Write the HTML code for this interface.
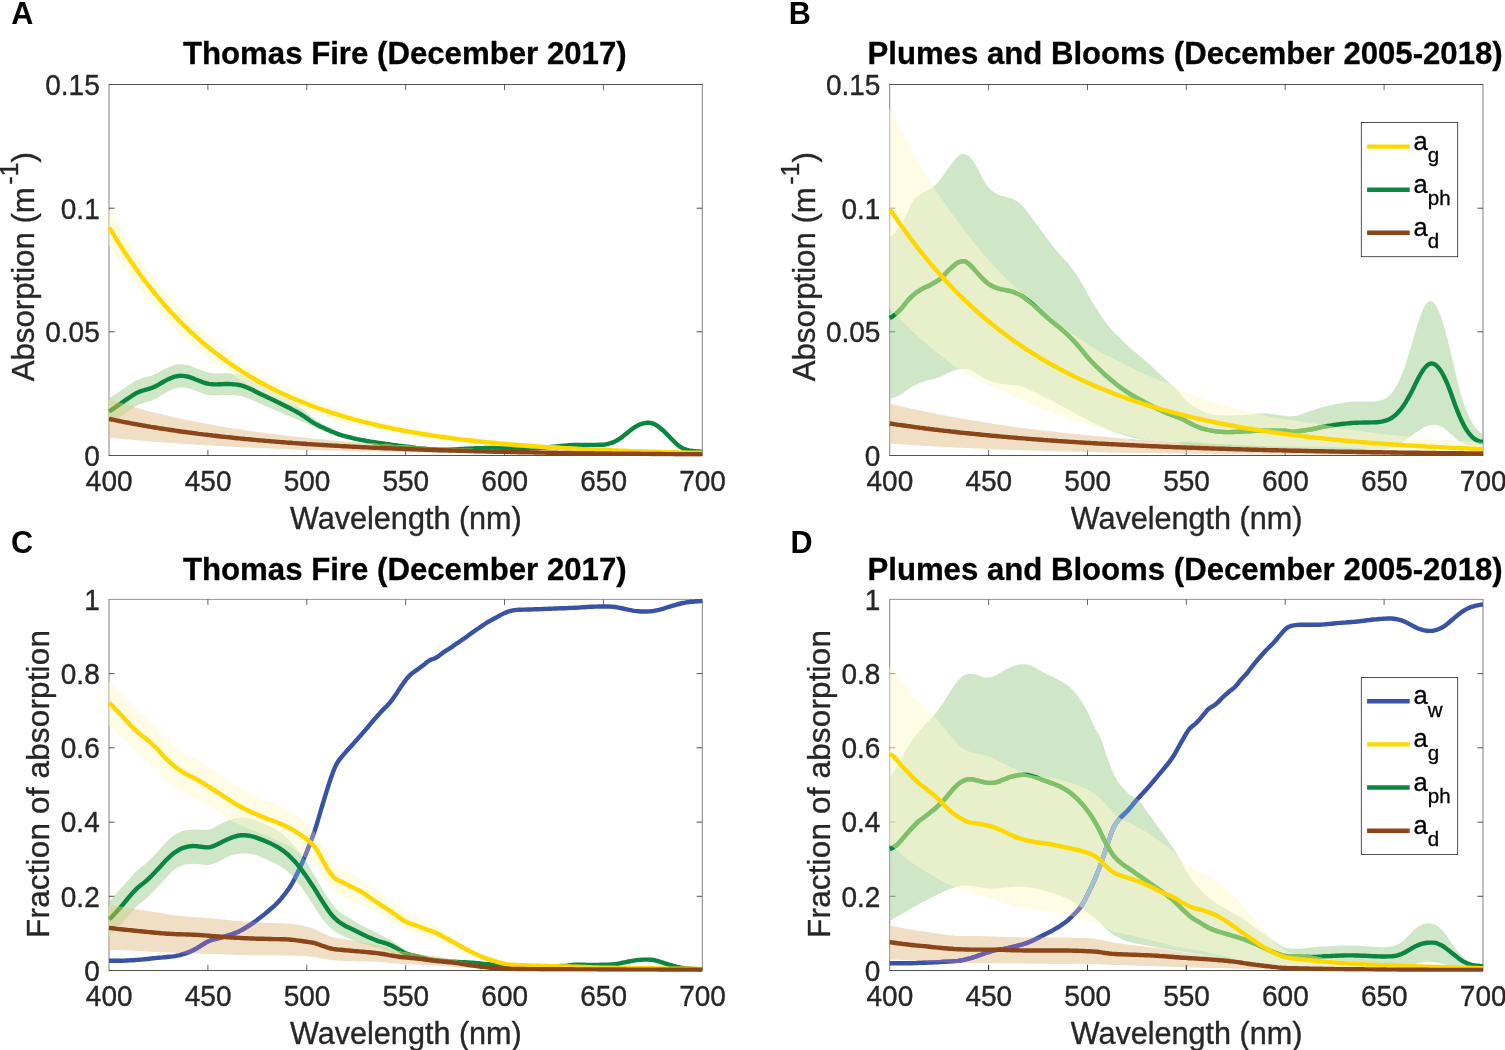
<!DOCTYPE html>
<html lang="en"><head><meta charset="utf-8"><title>Absorption spectra</title>
<style>html,body{margin:0;padding:0;background:#fff}body{width:1505px;height:1050px;overflow:hidden}svg{display:block}text{font-family:"Liberation Sans",Arial,Helvetica,sans-serif}.n{stroke:#262626;stroke-width:0.35px;paint-order:stroke}.b{stroke:#000;stroke-width:0.3px}</style>
</head><body>
<svg width="1505" height="1050" viewBox="0 0 1505 1050">
<rect width="1505" height="1050" fill="#fff"/>
<defs>
<clipPath id="clipA"><rect x="106" y="81.5" width="596.7" height="375.3"/></clipPath>
<clipPath id="clipB"><rect x="886.7" y="81.5" width="596.7" height="375.3"/></clipPath>
<clipPath id="clipC"><rect x="106" y="596.4" width="596.7" height="375.4"/></clipPath>
<clipPath id="clipD"><rect x="886.7" y="596.4" width="596.7" height="375.4"/></clipPath>
<path id="A_aph" d="M109 411.4L111 410.3L113 408.9L115 407.5L117 406.1L119 404.7L121 403.3L123 401.9L125 400.5L127 399.1L129 397.8L131 396.5L133 395.2L135 393.9L137 392.8L139 391.9L141 391.1L143 390.5L145 389.9L147 389.4L149 388.8L151 388.2L153 387.4L155 386.6L157 385.5L159 384.4L161 383.2L163 382L165 380.9L167 379.9L169 378.9L171 378L173 377.2L175 376.6L177 376.2L179 375.9L181 375.8L183 375.9L185 376.1L187 376.5L189 376.9L191 377.6L193 378.3L195 379.2L197 380L199 380.8L201 381.5L203 382.3L205 383L207 383.5L209 383.9L211 384.1L213 384.3L215 384.4L217 384.4L219 384.3L221 384.2L223 384.1L225 384L227 384L229 384L231 384.1L233 384.3L235 384.4L237 384.6L239 385L241 385.4L243 386L245 386.7L247 387.5L249 388.3L251 389.2L253 390.1L255 391.2L257 392.2L258.9 393.2L260.9 394.2L262.9 395.1L264.9 396.1L266.9 397L268.9 397.9L270.9 398.9L272.9 399.8L274.9 400.8L276.9 401.8L278.9 402.8L280.9 403.8L282.9 404.8L284.9 405.8L286.9 406.8L288.9 407.8L290.9 408.8L292.9 409.9L294.9 410.9L296.9 412L298.9 413.1L300.9 414.3L302.9 415.6L304.9 417L306.9 418.4L308.9 419.8L310.9 421.2L312.9 422.4L314.9 423.6L316.9 424.6L318.9 425.7L320.9 426.7L322.9 427.6L324.9 428.5L326.9 429.4L328.9 430.3L330.9 431.2L332.9 432L334.9 432.8L336.9 433.6L338.9 434.3L340.9 435L342.9 435.6L344.9 436.1L346.9 436.7L348.9 437.2L350.9 437.7L352.9 438.2L354.9 438.6L356.9 439.1L358.9 439.5L360.9 439.9L362.9 440.2L364.9 440.6L366.9 441L368.9 441.3L370.9 441.7L372.9 442L374.9 442.3L376.9 442.6L378.9 442.9L380.9 443.2L382.9 443.5L384.9 443.8L386.9 444.1L388.9 444.3L390.9 444.6L392.9 444.9L394.9 445.1L396.9 445.4L398.9 445.7L400.9 445.9L402.9 446.2L404.9 446.4L406.9 446.7L408.9 447L410.9 447.3L412.9 447.5L414.9 447.8L416.9 448.1L418.9 448.3L420.9 448.5L422.9 448.7L424.9 448.8L426.9 449L428.9 449.1L430.9 449.2L432.9 449.3L434.9 449.4L436.9 449.5L438.9 449.6L440.9 449.6L442.9 449.7L444.9 449.7L446.9 449.7L448.9 449.7L450.9 449.6L452.9 449.5L454.9 449.4L456.9 449.3L458.9 449.1L460.9 449L462.9 448.9L464.9 448.8L466.9 448.7L468.9 448.6L470.9 448.5L472.9 448.4L474.9 448.3L476.9 448.3L478.9 448.2L480.9 448.1L482.9 448.1L484.9 448L486.9 448L488.9 448L490.9 448L492.9 448L494.9 448L496.9 448.1L498.9 448.1L500.9 448.1L502.9 448.1L504.9 448.2L506.9 448.2L508.9 448.2L510.9 448.3L512.9 448.3L514.9 448.4L516.9 448.5L518.9 448.6L520.9 448.6L522.9 448.7L524.9 448.6L526.9 448.6L528.9 448.5L530.9 448.4L532.9 448.2L534.9 448.1L536.9 448L538.9 447.9L540.9 447.7L542.9 447.6L544.9 447.5L546.9 447.3L548.9 447.2L550.9 447L552.9 446.8L554.8 446.6L556.8 446.4L558.8 446.2L560.8 446L562.8 445.8L564.8 445.6L566.8 445.5L568.8 445.3L570.8 445.2L572.8 445L574.8 445L576.8 444.9L578.8 444.9L580.8 444.9L582.8 444.9L584.8 444.9L586.8 444.9L588.8 444.9L590.8 444.9L592.8 444.9L594.8 444.9L596.8 444.9L598.8 444.8L600.8 444.8L602.8 444.7L604.8 444.5L606.8 444.1L608.8 443.6L610.8 443.1L612.8 442.4L614.8 441.5L616.8 440.5L618.8 439.3L620.8 437.9L622.8 436.4L624.8 434.8L626.8 433.2L628.8 431.6L630.8 430L632.8 428.5L634.8 427.1L636.8 426L638.8 425L640.8 424.1L642.8 423.5L644.8 423.1L646.8 422.8L648.8 422.8L650.8 423L652.8 423.5L654.8 424.3L656.8 425.5L658.8 426.9L660.8 428.5L662.8 430.2L664.8 432.1L666.8 434.1L668.8 436.1L670.8 438.2L672.8 440.3L674.8 442.3L676.8 444.1L678.8 445.7L680.8 447.2L682.8 448.4L684.8 449.2L686.8 449.9L688.8 450.4L690.8 450.8L692.8 451L694.8 451.2L696.8 451.4L698.8 451.5L700.8 451.6L702.3 451.6"/>
<path id="A_aph_s" d="M108.4 398.4L109 398.4L112 396.6L115 394.5L118 392.5L121 390.4L124 388.3L127 386.3L130 384.3L133 382.4L136 380.6L139 379.2L142 378.2L145 377.3L148 376.5L151 375.7L154 374.6L157 373.2L160 371.5L163 369.8L166 368.3L169 366.9L172 365.7L175 364.8L178 364.3L181 364.1L184 364.4L187 364.9L190 365.8L193 366.9L196 368.2L199 369.4L202 370.6L205 371.7L208 372.5L211 373L214 373.3L217 373.3L220 373.2L223 373.2L226 373.1L229 373.2L232 373.4L235 373.7L238 374.1L241 374.9L244 375.9L247 377L250 378.4L253 379.9L256 381.5L258.9 383.2L261.9 384.7L264.9 386.3L267.9 387.8L270.9 389.4L273.9 391L276.9 392.7L279.9 394.4L282.9 396.2L285.9 397.9L288.9 399.7L291.9 401.6L294.9 403.5L297.9 405.5L300.9 407.7L303.9 410.1L306.9 412.7L309.9 415.4L312.9 417.8L315.9 420.1L318.9 422.1L321.9 423.8L324.9 425.5L327.9 427.1L330.9 428.6L333.9 430L336.9 431.3L339.9 432.4L342.9 433.4L345.9 434.3L348.9 435.1L351.9 435.9L354.9 436.6L357.9 437.3L360.9 437.9L363.9 438.5L366.9 439L369.9 439.6L372.9 440.1L375.9 440.6L378.9 441L381.9 441.5L384.9 441.9L387.9 442.4L390.9 442.8L393.9 443.2L396.9 443.7L399.9 444.1L402.9 444.5L405.9 445L408.9 445.4L411.9 445.9L414.9 446.4L417.9 446.9L420.9 447.3L423.9 447.6L426.9 447.9L429.9 448.2L432.9 448.4L435.9 448.6L438.9 448.8L441.9 448.9L444.9 449L447.9 449.1L450.9 449.1L453.9 449L456.9 448.8L459.9 448.7L462.9 448.6L465.9 448.4L468.9 448.3L471.9 448.2L474.9 448.1L477.9 448.1L480.9 448L483.9 447.9L486.9 447.9L489.9 448L492.9 448L495.9 448L498.9 448.1L501.9 448.1L504.9 448.2L507.9 448.2L510.9 448.3L513.9 448.4L516.9 448.5L519.9 448.6L522.9 448.7L525.9 448.6L528.9 448.5L531.9 448.3L534.9 448.1L537.9 447.9L540.9 447.7L543.9 447.5L546.9 447.3L549.9 447.1L552.9 446.8L555.8 446.5L558.8 446.2L561.8 445.9L564.8 445.6L567.8 445.4L570.8 445.2L573.8 445L576.8 444.9L579.8 444.9L582.8 444.9L585.8 444.9L588.8 444.9L591.8 444.9L594.8 444.9L597.8 444.8L600.8 444.8L603.8 444.6L606.8 444.1L609.8 443.4L612.8 442.4L615.8 441.1L618.8 439.3L621.8 437.1L624.8 434.8L627.8 432.4L630.8 430L633.8 427.8L636.8 426L639.8 424.5L642.8 423.5L645.8 422.9L648.8 422.8L651.8 423.2L654.8 424.3L657.8 426.1L660.8 428.5L663.8 431.1L666.8 434.1L669.8 437.1L672.8 440.3L675.8 443.2L678.8 445.7L681.8 447.8L684.8 449.2L687.8 450.2L690.8 450.8L693.8 451.1L696.8 451.4L699.8 451.5L702.3 451.6L702.3 451.6L699.8 451.5L696.8 451.4L693.8 451.1L690.8 450.8L687.8 450.2L684.8 449.2L681.8 447.8L678.8 445.7L675.8 443.2L672.8 440.3L669.8 437.1L666.8 434.1L663.8 431.1L660.8 428.5L657.8 426.1L654.8 424.3L651.8 423.2L648.8 422.8L645.8 422.9L642.8 423.5L639.8 424.5L636.8 426L633.8 427.8L630.8 430L627.8 432.4L624.8 434.8L621.8 437.1L618.8 439.3L615.8 441.1L612.8 442.4L609.8 443.4L606.8 444.1L603.8 444.6L600.8 444.8L597.8 444.8L594.8 444.9L591.8 444.9L588.8 444.9L585.8 444.9L582.8 444.9L579.8 444.9L576.8 444.9L573.8 445L570.8 445.2L567.8 445.4L564.8 445.6L561.8 445.9L558.8 446.2L555.8 446.5L552.9 446.8L549.9 447.1L546.9 447.3L543.9 447.5L540.9 447.7L537.9 447.9L534.9 448.1L531.9 448.3L528.9 448.5L525.9 448.6L522.9 448.7L519.9 448.6L516.9 448.5L513.9 448.4L510.9 448.3L507.9 448.2L504.9 448.2L501.9 448.1L498.9 448.1L495.9 448.1L492.9 448L489.9 448L486.9 448.1L483.9 448.1L480.9 448.2L477.9 448.4L474.9 448.5L471.9 448.7L468.9 448.9L465.9 449.1L462.9 449.3L459.9 449.5L456.9 449.7L453.9 449.9L450.9 450.2L447.9 450.3L444.9 450.4L441.9 450.4L438.9 450.4L435.9 450.3L432.9 450.2L429.9 450.2L426.9 450L423.9 449.9L420.9 449.7L417.9 449.5L414.9 449.2L411.9 448.9L408.9 448.5L405.9 448.2L402.9 447.8L399.9 447.5L396.9 447.1L393.9 446.8L390.9 446.4L387.9 446L384.9 445.6L381.9 445.2L378.9 444.8L375.9 444.3L372.9 443.9L369.9 443.4L366.9 442.9L363.9 442.4L360.9 441.8L357.9 441.3L354.9 440.6L351.9 440L348.9 439.3L345.9 438.5L342.9 437.7L339.9 436.8L336.9 435.9L333.9 434.8L330.9 433.8L327.9 432.7L324.9 431.6L321.9 430.5L318.9 429.3L315.9 428.1L312.9 427L309.9 425.6L306.9 424.1L303.9 422.5L300.9 420.9L297.9 419.6L294.9 418.4L291.9 417.2L288.9 415.9L285.9 414.7L282.9 413.4L279.9 412.1L276.9 410.8L273.9 409.6L270.9 408.3L267.9 407.1L264.9 405.8L261.9 404.6L258.9 403.3L256 401.8L253 400.4L250 399L247 397.9L244 396.9L241 396L238 395.4L235 395.1L232 395L229 394.9L226 394.9L223 395L220 395.2L217 395.4L214 395.5L211 395.3L208 394.9L205 394.2L202 393.2L199 392.1L196 391L193 389.7L190 388.7L187 388L184 387.5L181 387.4L178 387.8L175 388.4L172 389.4L169 390.9L166 392.4L163 394.2L160 396L157 397.9L154 399.4L151 400.7L148 401.6L145 402.5L142 403.4L139 404.6L136 406.1L133 407.9L130 409.9L127 412L124 414.1L121 416.2L118 418.3L115 420.5L112 422.6L109 424.4L108.4 424.4Z"/>
<clipPath id="cA_aph"><use href="#A_aph_s"/></clipPath>
<path id="A_ag" d="M109 227.6L111 230.2L113 233.5L115 236.8L117 240.1L119 243.3L121 246.5L123 249.6L125 252.7L127 255.7L129 258.7L131 261.6L133 264.5L135 267.4L137 270.2L139 273L141 275.7L143 278.4L145 281L147 283.7L149 286.2L151 288.7L153 291.2L155 293.7L157 296.1L159 298.5L161 300.8L163 303.2L165 305.4L167 307.7L169 309.9L171 312.1L173 314.2L175 316.3L177 318.4L179 320.5L181 322.5L183 324.5L185 326.4L187 328.4L189 330.3L191 332.1L193 334L195 335.8L197 337.6L199 339.3L201 341.1L203 342.8L205 344.5L207 346.1L209 347.8L211 349.4L213 351L215 352.5L217 354.1L219 355.6L221 357.1L223 358.5L225 360L227 361.4L229 362.8L231 364.2L233 365.6L235 366.9L237 368.2L239 369.6L241 370.8L243 372.1L245 373.4L247 374.6L249 375.8L251 377L253 378.2L255 379.3L257 380.5L258.9 381.6L260.9 382.7L262.9 383.8L264.9 384.8L266.9 385.9L268.9 386.9L270.9 388L272.9 389L274.9 390L276.9 390.9L278.9 391.9L280.9 392.9L282.9 393.8L284.9 394.7L286.9 395.6L288.9 396.5L290.9 397.4L292.9 398.3L294.9 399.1L296.9 400L298.9 400.8L300.9 401.6L302.9 402.4L304.9 403.2L306.9 404L308.9 404.8L310.9 405.5L312.9 406.3L314.9 407L316.9 407.7L318.9 408.5L320.9 409.2L322.9 409.8L324.9 410.5L326.9 411.2L328.9 411.9L330.9 412.5L332.9 413.2L334.9 413.8L336.9 414.4L338.9 415L340.9 415.6L342.9 416.2L344.9 416.8L346.9 417.4L348.9 418L350.9 418.5L352.9 419.1L354.9 419.6L356.9 420.2L358.9 420.7L360.9 421.2L362.9 421.7L364.9 422.2L366.9 422.7L368.9 423.2L370.9 423.7L372.9 424.2L374.9 424.6L376.9 425.1L378.9 425.6L380.9 426L382.9 426.4L384.9 426.9L386.9 427.3L388.9 427.7L390.9 428.1L392.9 428.6L394.9 429L396.9 429.4L398.9 429.7L400.9 430.1L402.9 430.5L404.9 430.9L406.9 431.3L408.9 431.6L410.9 432L412.9 432.3L414.9 432.7L416.9 433L418.9 433.3L420.9 433.7L422.9 434L424.9 434.3L426.9 434.6L428.9 435L430.9 435.3L432.9 435.6L434.9 435.9L436.9 436.2L438.9 436.4L440.9 436.7L442.9 437L444.9 437.3L446.9 437.6L448.9 437.8L450.9 438.1L452.9 438.4L454.9 438.6L456.9 438.9L458.9 439.1L460.9 439.4L462.9 439.6L464.9 439.8L466.9 440.1L468.9 440.3L470.9 440.5L472.9 440.7L474.9 441L476.9 441.2L478.9 441.4L480.9 441.6L482.9 441.8L484.9 442L486.9 442.2L488.9 442.4L490.9 442.6L492.9 442.8L494.9 443L496.9 443.2L498.9 443.4L500.9 443.6L502.9 443.7L504.9 443.9L506.9 444.1L508.9 444.3L510.9 444.4L512.9 444.6L514.9 444.7L516.9 444.9L518.9 445.1L520.9 445.2L522.9 445.4L524.9 445.5L526.9 445.7L528.9 445.8L530.9 446L532.9 446.1L534.9 446.3L536.9 446.4L538.9 446.5L540.9 446.7L542.9 446.8L544.9 446.9L546.9 447.1L548.9 447.2L550.9 447.3L552.9 447.4L554.8 447.5L556.8 447.7L558.8 447.8L560.8 447.9L562.8 448L564.8 448.1L566.8 448.2L568.8 448.3L570.8 448.4L572.8 448.6L574.8 448.7L576.8 448.8L578.8 448.9L580.8 449L582.8 449.1L584.8 449.2L586.8 449.2L588.8 449.3L590.8 449.4L592.8 449.5L594.8 449.6L596.8 449.7L598.8 449.8L600.8 449.9L602.8 450L604.8 450L606.8 450.1L608.8 450.2L610.8 450.3L612.8 450.4L614.8 450.4L616.8 450.5L618.8 450.6L620.8 450.7L622.8 450.7L624.8 450.8L626.8 450.9L628.8 450.9L630.8 451L632.8 451.1L634.8 451.1L636.8 451.2L638.8 451.3L640.8 451.3L642.8 451.4L644.8 451.5L646.8 451.5L648.8 451.6L650.8 451.6L652.8 451.7L654.8 451.8L656.8 451.8L658.8 451.9L660.8 451.9L662.8 452L664.8 452L666.8 452.1L668.8 452.1L670.8 452.2L672.8 452.2L674.8 452.3L676.8 452.3L678.8 452.4L680.8 452.4L682.8 452.5L684.8 452.5L686.8 452.6L688.8 452.6L690.8 452.6L692.8 452.7L694.8 452.7L696.8 452.8L698.8 452.8L700.8 452.8L702.3 452.9"/>
<path id="A_ag_s" d="M108.4 209.8L109 209.8L112 214.3L115 219.5L118 224.6L121 229.7L124 234.6L127 239.4L130 244.1L133 248.7L136 253.2L139 257.6L142 261.9L145 266.1L148 270.2L151 274.2L154 278.1L157 282L160 285.7L163 289.4L166 293L169 296.5L172 300L175 303.4L178 306.6L181 309.9L184 313L187 316.1L190 319.1L193 322.1L196 325L199 327.8L202 330.5L205 333.2L208 335.9L211 338.5L214 341L217 343.5L220 345.9L223 348.2L226 350.6L229 352.8L232 355L235 357.2L238 359.3L241 361.4L244 363.4L247 365.4L250 367.3L253 369.2L256 371.1L258.9 372.9L261.9 374.7L264.9 376.4L267.9 378.1L270.9 379.8L273.9 381.4L276.9 383L279.9 384.6L282.9 386.1L285.9 387.6L288.9 389L291.9 390.4L294.9 391.8L297.9 393.2L300.9 394.5L303.9 395.8L306.9 397.1L309.9 398.4L312.9 399.6L315.9 400.8L318.9 402L321.9 403.1L324.9 404.2L327.9 405.3L330.9 406.4L333.9 407.4L336.9 408.5L339.9 409.5L342.9 410.4L345.9 411.4L348.9 412.3L351.9 413.3L354.9 414.2L357.9 415L360.9 415.9L363.9 416.7L366.9 417.6L369.9 418.4L372.9 419.2L375.9 419.9L378.9 420.7L381.9 421.4L384.9 422.1L387.9 422.9L390.9 423.5L393.9 424.2L396.9 424.9L399.9 425.5L402.9 426.2L405.9 426.8L408.9 427.4L411.9 428L414.9 428.6L417.9 429.1L420.9 429.7L423.9 430.2L426.9 430.8L429.9 431.3L432.9 431.8L435.9 432.3L438.9 432.8L441.9 433.3L444.9 433.7L447.9 434.2L450.9 434.6L453.9 435.1L456.9 435.5L459.9 435.9L462.9 436.3L465.9 436.7L468.9 437.1L471.9 437.5L474.9 437.9L477.9 438.3L480.9 438.6L483.9 439L486.9 439.3L489.9 439.7L492.9 440L495.9 440.3L498.9 440.6L501.9 440.9L504.9 441.2L507.9 441.5L510.9 441.8L513.9 442.1L516.9 442.4L519.9 442.7L522.9 442.9L525.9 443.2L528.9 443.5L531.9 443.7L534.9 443.9L537.9 444.2L540.9 444.4L543.9 444.7L546.9 444.9L549.9 445.1L552.9 445.3L555.8 445.5L558.8 445.7L561.8 445.9L564.8 446.1L567.8 446.3L570.8 446.5L573.8 446.7L576.8 446.9L579.8 447.1L582.8 447.2L585.8 447.4L588.8 447.6L591.8 447.7L594.8 447.9L597.8 448L600.8 448.2L603.8 448.3L606.8 448.5L609.8 448.6L612.8 448.8L615.8 448.9L618.8 449L621.8 449.2L624.8 449.3L627.8 449.4L630.8 449.6L633.8 449.7L636.8 449.8L639.8 449.9L642.8 450L645.8 450.1L648.8 450.2L651.8 450.4L654.8 450.5L657.8 450.6L660.8 450.7L663.8 450.8L666.8 450.9L669.8 451L672.8 451L675.8 451.1L678.8 451.2L681.8 451.3L684.8 451.4L687.8 451.5L690.8 451.6L693.8 451.6L696.8 451.7L699.8 451.8L702.3 451.8L702.3 453.9L699.8 453.9L696.8 453.8L693.8 453.8L690.8 453.7L687.8 453.7L684.8 453.6L681.8 453.6L678.8 453.5L675.8 453.5L672.8 453.4L669.8 453.4L666.8 453.3L663.8 453.2L660.8 453.2L657.8 453.1L654.8 453L651.8 453L648.8 452.9L645.8 452.8L642.8 452.8L639.8 452.7L636.8 452.6L633.8 452.5L630.8 452.5L627.8 452.4L624.8 452.3L621.8 452.2L618.8 452.1L615.8 452L612.8 451.9L609.8 451.8L606.8 451.8L603.8 451.7L600.8 451.6L597.8 451.4L594.8 451.3L591.8 451.2L588.8 451.1L585.8 451L582.8 450.9L579.8 450.8L576.8 450.6L573.8 450.5L570.8 450.4L567.8 450.3L564.8 450.1L561.8 450L558.8 449.8L555.8 449.7L552.9 449.5L549.9 449.4L546.9 449.2L543.9 449.1L540.9 448.9L537.9 448.7L534.9 448.6L531.9 448.4L528.9 448.2L525.9 448L522.9 447.8L519.9 447.6L516.9 447.4L513.9 447.2L510.9 447L507.9 446.8L504.9 446.6L501.9 446.3L498.9 446.1L495.9 445.9L492.9 445.6L489.9 445.4L486.9 445.1L483.9 444.9L480.9 444.6L477.9 444.3L474.9 444L471.9 443.8L468.9 443.5L465.9 443.2L462.9 442.8L459.9 442.5L456.9 442.2L453.9 441.9L450.9 441.5L447.9 441.2L444.9 440.8L441.9 440.5L438.9 440.1L435.9 439.7L432.9 439.3L429.9 438.9L426.9 438.5L423.9 438.1L420.9 437.7L417.9 437.2L414.9 436.8L411.9 436.3L408.9 435.8L405.9 435.3L402.9 434.8L399.9 434.3L396.9 433.8L393.9 433.3L390.9 432.7L387.9 432.2L384.9 431.6L381.9 431L378.9 430.4L375.9 429.8L372.9 429.2L369.9 428.5L366.9 427.9L363.9 427.2L360.9 426.5L357.9 425.8L354.9 425.1L351.9 424.3L348.9 423.6L345.9 422.8L342.9 422L339.9 421.2L336.9 420.4L333.9 419.5L330.9 418.6L327.9 417.8L324.9 416.8L321.9 415.9L318.9 414.9L315.9 414L312.9 413L309.9 411.9L306.9 410.9L303.9 409.8L300.9 408.7L297.9 407.6L294.9 406.4L291.9 405.2L288.9 404L285.9 402.8L282.9 401.5L279.9 400.2L276.9 398.9L273.9 397.5L270.9 396.1L267.9 394.7L264.9 393.3L261.9 391.8L258.9 390.2L256 388.7L253 387.1L250 385.4L247 383.8L244 382L241 380.3L238 378.5L235 376.6L232 374.8L229 372.8L226 370.9L223 368.8L220 366.8L217 364.7L214 362.5L211 360.3L208 358L205 355.7L202 353.3L199 350.9L196 348.4L193 345.9L190 343.3L187 340.6L184 337.9L181 335.1L178 332.2L175 329.3L172 326.3L169 323.2L166 320.1L163 316.9L160 313.6L157 310.3L154 306.8L151 303.3L148 299.7L145 296L142 292.3L139 288.4L136 284.4L133 280.4L130 276.3L127 272L124 267.7L121 263.3L118 258.8L115 254.1L112 249.4L109 245.4L108.4 245.4Z"/>
<clipPath id="cA_ag"><use href="#A_ag_s"/></clipPath>
<path id="A_ad" d="M109 419L111 419.3L113 419.7L115 420.2L117 420.6L119 421L121 421.4L123 421.8L125 422.2L127 422.5L129 422.9L131 423.3L133 423.7L135 424L137 424.4L139 424.8L141 425.1L143 425.5L145 425.8L147 426.2L149 426.5L151 426.9L153 427.2L155 427.5L157 427.8L159 428.2L161 428.5L163 428.8L165 429.1L167 429.4L169 429.7L171 430L173 430.3L175 430.6L177 430.9L179 431.2L181 431.5L183 431.7L185 432L187 432.3L189 432.6L191 432.8L193 433.1L195 433.3L197 433.6L199 433.9L201 434.1L203 434.4L205 434.6L207 434.8L209 435.1L211 435.3L213 435.6L215 435.8L217 436L219 436.2L221 436.5L223 436.7L225 436.9L227 437.1L229 437.3L231 437.5L233 437.8L235 438L237 438.2L239 438.4L241 438.6L243 438.8L245 439L247 439.1L249 439.3L251 439.5L253 439.7L255 439.9L257 440.1L258.9 440.3L260.9 440.4L262.9 440.6L264.9 440.8L266.9 440.9L268.9 441.1L270.9 441.3L272.9 441.4L274.9 441.6L276.9 441.8L278.9 441.9L280.9 442.1L282.9 442.2L284.9 442.4L286.9 442.6L288.9 442.7L290.9 442.8L292.9 443L294.9 443.1L296.9 443.3L298.9 443.4L300.9 443.6L302.9 443.7L304.9 443.8L306.9 444L308.9 444.1L310.9 444.2L312.9 444.4L314.9 444.5L316.9 444.6L318.9 444.8L320.9 444.9L322.9 445L324.9 445.1L326.9 445.2L328.9 445.4L330.9 445.5L332.9 445.6L334.9 445.7L336.9 445.8L338.9 445.9L340.9 446.1L342.9 446.2L344.9 446.3L346.9 446.4L348.9 446.5L350.9 446.6L352.9 446.7L354.9 446.8L356.9 446.9L358.9 447L360.9 447.1L362.9 447.2L364.9 447.3L366.9 447.4L368.9 447.5L370.9 447.6L372.9 447.7L374.9 447.8L376.9 447.8L378.9 447.9L380.9 448L382.9 448.1L384.9 448.2L386.9 448.3L388.9 448.4L390.9 448.4L392.9 448.5L394.9 448.6L396.9 448.7L398.9 448.8L400.9 448.8L402.9 448.9L404.9 449L406.9 449.1L408.9 449.1L410.9 449.2L412.9 449.3L414.9 449.4L416.9 449.4L418.9 449.5L420.9 449.6L422.9 449.6L424.9 449.7L426.9 449.8L428.9 449.8L430.9 449.9L432.9 450L434.9 450L436.9 450.1L438.9 450.2L440.9 450.2L442.9 450.3L444.9 450.4L446.9 450.4L448.9 450.5L450.9 450.5L452.9 450.6L454.9 450.6L456.9 450.7L458.9 450.8L460.9 450.8L462.9 450.9L464.9 450.9L466.9 451L468.9 451L470.9 451.1L472.9 451.1L474.9 451.2L476.9 451.2L478.9 451.3L480.9 451.3L482.9 451.4L484.9 451.4L486.9 451.5L488.9 451.5L490.9 451.6L492.9 451.6L494.9 451.7L496.9 451.7L498.9 451.7L500.9 451.8L502.9 451.8L504.9 451.9L506.9 451.9L508.9 452L510.9 452L512.9 452L514.9 452.1L516.9 452.1L518.9 452.2L520.9 452.2L522.9 452.2L524.9 452.3L526.9 452.3L528.9 452.3L530.9 452.4L532.9 452.4L534.9 452.5L536.9 452.5L538.9 452.5L540.9 452.6L542.9 452.6L544.9 452.6L546.9 452.7L548.9 452.7L550.9 452.7L552.9 452.8L554.8 452.8L556.8 452.8L558.8 452.9L560.8 452.9L562.8 452.9L564.8 452.9L566.8 453L568.8 453L570.8 453L572.8 453.1L574.8 453.1L576.8 453.1L578.8 453.1L580.8 453.2L582.8 453.2L584.8 453.2L586.8 453.3L588.8 453.3L590.8 453.3L592.8 453.3L594.8 453.4L596.8 453.4L598.8 453.4L600.8 453.4L602.8 453.5L604.8 453.5L606.8 453.5L608.8 453.5L610.8 453.5L612.8 453.6L614.8 453.6L616.8 453.6L618.8 453.6L620.8 453.7L622.8 453.7L624.8 453.7L626.8 453.7L628.8 453.7L630.8 453.8L632.8 453.8L634.8 453.8L636.8 453.8L638.8 453.8L640.8 453.9L642.8 453.9L644.8 453.9L646.8 453.9L648.8 453.9L650.8 454L652.8 454L654.8 454L656.8 454L658.8 454L660.8 454L662.8 454.1L664.8 454.1L666.8 454.1L668.8 454.1L670.8 454.1L672.8 454.1L674.8 454.2L676.8 454.2L678.8 454.2L680.8 454.2L682.8 454.2L684.8 454.2L686.8 454.2L688.8 454.3L690.8 454.3L692.8 454.3L694.8 454.3L696.8 454.3L698.8 454.3L700.8 454.3L702.3 454.4"/>
<path id="A_ad_s" d="M108.4 399.7L109 399.7L112 400.5L115 401.4L118 402.4L121 403.3L124 404.2L127 405.1L130 406L133 406.8L136 407.7L139 408.5L142 409.3L145 410.1L148 410.9L151 411.7L154 412.4L157 413.2L160 413.9L163 414.6L166 415.3L169 416L172 416.7L175 417.4L178 418.1L181 418.7L184 419.4L187 420L190 420.6L193 421.2L196 421.8L199 422.4L202 423L205 423.5L208 424.1L211 424.6L214 425.2L217 425.7L220 426.2L223 426.7L226 427.2L229 427.7L232 428.2L235 428.7L238 429.1L241 429.6L244 430L247 430.5L250 430.9L253 431.3L256 431.8L258.9 432.2L261.9 432.6L264.9 433L267.9 433.4L270.9 433.7L273.9 434.1L276.9 434.5L279.9 434.9L282.9 435.2L285.9 435.6L288.9 435.9L291.9 436.3L294.9 436.6L297.9 436.9L300.9 437.2L303.9 437.6L306.9 437.9L309.9 438.2L312.9 438.5L315.9 438.8L318.9 439.1L321.9 439.3L324.9 439.6L327.9 439.9L330.9 440.2L333.9 440.4L336.9 440.7L339.9 441L342.9 441.2L345.9 441.5L348.9 441.7L351.9 441.9L354.9 442.2L357.9 442.4L360.9 442.6L363.9 442.9L366.9 443.1L369.9 443.3L372.9 443.5L375.9 443.7L378.9 443.9L381.9 444.1L384.9 444.3L387.9 444.5L390.9 444.7L393.9 444.9L396.9 445.1L399.9 445.3L402.9 445.4L405.9 445.6L408.9 445.8L411.9 446L414.9 446.1L417.9 446.3L420.9 446.4L423.9 446.6L426.9 446.8L429.9 446.9L432.9 447.1L435.9 447.2L438.9 447.3L441.9 447.5L444.9 447.6L447.9 447.8L450.9 447.9L453.9 448L456.9 448.2L459.9 448.3L462.9 448.4L465.9 448.5L468.9 448.7L471.9 448.8L474.9 448.9L477.9 449L480.9 449.1L483.9 449.2L486.9 449.3L489.9 449.4L492.9 449.5L495.9 449.7L498.9 449.8L501.9 449.9L504.9 450L507.9 450L510.9 450.1L513.9 450.2L516.9 450.3L519.9 450.4L522.9 450.5L525.9 450.6L528.9 450.7L531.9 450.8L534.9 450.8L537.9 450.9L540.9 451L543.9 451.1L546.9 451.2L549.9 451.2L552.9 451.3L555.8 451.4L558.8 451.5L561.8 451.5L564.8 451.6L567.8 451.7L570.8 451.7L573.8 451.8L576.8 451.9L579.8 451.9L582.8 452L585.8 452L588.8 452.1L591.8 452.2L594.8 452.2L597.8 452.3L600.8 452.3L603.8 452.4L606.8 452.4L609.8 452.5L612.8 452.5L615.8 452.6L618.8 452.6L621.8 452.7L624.8 452.7L627.8 452.8L630.8 452.8L633.8 452.9L636.8 452.9L639.8 453L642.8 453L645.8 453.1L648.8 453.1L651.8 453.1L654.8 453.2L657.8 453.2L660.8 453.3L663.8 453.3L666.8 453.3L669.8 453.4L672.8 453.4L675.8 453.5L678.8 453.5L681.8 453.5L684.8 453.6L687.8 453.6L690.8 453.6L693.8 453.7L696.8 453.7L699.8 453.7L702.3 453.7L702.3 454.9L699.8 454.9L696.8 454.9L693.8 454.9L690.8 454.9L687.8 454.9L684.8 454.9L681.8 454.9L678.8 454.9L675.8 454.8L672.8 454.8L669.8 454.8L666.8 454.8L663.8 454.8L660.8 454.8L657.8 454.8L654.8 454.8L651.8 454.7L648.8 454.7L645.8 454.7L642.8 454.7L639.8 454.7L636.8 454.7L633.8 454.7L630.8 454.6L627.8 454.6L624.8 454.6L621.8 454.6L618.8 454.6L615.8 454.6L612.8 454.6L609.8 454.5L606.8 454.5L603.8 454.5L600.8 454.5L597.8 454.5L594.8 454.4L591.8 454.4L588.8 454.4L585.8 454.4L582.8 454.4L579.8 454.4L576.8 454.3L573.8 454.3L570.8 454.3L567.8 454.3L564.8 454.2L561.8 454.2L558.8 454.2L555.8 454.2L552.9 454.2L549.9 454.1L546.9 454.1L543.9 454.1L540.9 454.1L537.9 454L534.9 454L531.9 454L528.9 454L525.9 453.9L522.9 453.9L519.9 453.9L516.9 453.8L513.9 453.8L510.9 453.8L507.9 453.8L504.9 453.7L501.9 453.7L498.9 453.7L495.9 453.6L492.9 453.6L489.9 453.6L486.9 453.5L483.9 453.5L480.9 453.5L477.9 453.4L474.9 453.4L471.9 453.3L468.9 453.3L465.9 453.3L462.9 453.2L459.9 453.2L456.9 453.1L453.9 453.1L450.9 453.1L447.9 453L444.9 453L441.9 452.9L438.9 452.9L435.9 452.8L432.9 452.8L429.9 452.7L426.9 452.7L423.9 452.6L420.9 452.6L417.9 452.5L414.9 452.5L411.9 452.4L408.9 452.4L405.9 452.3L402.9 452.3L399.9 452.2L396.9 452.2L393.9 452.1L390.9 452L387.9 452L384.9 451.9L381.9 451.9L378.9 451.8L375.9 451.7L372.9 451.7L369.9 451.6L366.9 451.5L363.9 451.5L360.9 451.4L357.9 451.3L354.9 451.2L351.9 451.2L348.9 451.1L345.9 451L342.9 450.9L339.9 450.8L336.9 450.8L333.9 450.7L330.9 450.6L327.9 450.5L324.9 450.4L321.9 450.3L318.9 450.2L315.9 450.1L312.9 450L309.9 450L306.9 449.9L303.9 449.8L300.9 449.7L297.9 449.5L294.9 449.4L291.9 449.3L288.9 449.2L285.9 449.1L282.9 449L279.9 448.9L276.9 448.8L273.9 448.7L270.9 448.5L267.9 448.4L264.9 448.3L261.9 448.2L258.9 448L256 447.9L253 447.8L250 447.6L247 447.5L244 447.3L241 447.2L238 447.1L235 446.9L232 446.8L229 446.6L226 446.4L223 446.3L220 446.1L217 446L214 445.8L211 445.6L208 445.4L205 445.3L202 445.1L199 444.9L196 444.7L193 444.5L190 444.3L187 444.1L184 443.9L181 443.7L178 443.5L175 443.3L172 443.1L169 442.9L166 442.6L163 442.4L160 442.2L157 441.9L154 441.7L151 441.5L148 441.2L145 441L142 440.7L139 440.4L136 440.2L133 439.9L130 439.6L127 439.4L124 439.1L121 438.8L118 438.5L115 438.2L112 437.9L109 437.6L108.4 437.6Z"/>
<clipPath id="cA_ad"><use href="#A_ad_s"/></clipPath>
<path id="B_aph" d="M889.7 318.1L891.7 317L893.7 315.5L895.7 313.9L897.7 312.1L899.7 310.2L901.7 308.1L903.7 305.7L905.7 303.1L907.7 300.6L909.7 298.4L911.7 296.4L913.7 294.7L915.7 293.1L917.7 291.6L919.7 290.2L921.7 289.1L923.7 288L925.7 287.1L927.7 286.2L929.7 285.2L931.7 284.1L933.7 283L935.7 281.8L937.7 280.6L939.7 279.2L941.7 277.5L943.7 275.5L945.7 273.4L947.7 271.3L949.7 269.3L951.7 267.5L953.7 265.7L955.7 264L957.7 262.7L959.7 261.8L961.7 261.3L963.7 261.2L965.7 261.7L967.7 263L969.7 264.7L971.7 266.6L973.7 268.8L975.7 271.1L977.7 273.4L979.7 275.6L981.7 277.7L983.7 279.7L985.7 281.6L987.7 283.3L989.7 284.7L991.7 285.8L993.7 286.8L995.7 287.6L997.7 288.3L999.7 288.9L1001.7 289.4L1003.7 289.8L1005.7 290.1L1007.7 290.5L1009.7 290.9L1011.7 291.5L1013.7 292.2L1015.7 293L1017.7 293.9L1019.7 294.9L1021.7 296L1023.7 297.2L1025.7 298.7L1027.7 300.2L1029.7 301.7L1031.7 303.4L1033.7 305.1L1035.7 307L1037.7 308.8L1039.6 310.7L1041.6 312.5L1043.6 314.3L1045.6 316.1L1047.6 317.9L1049.6 319.7L1051.6 321.3L1053.6 322.9L1055.6 324.5L1057.6 326.1L1059.6 327.7L1061.6 329.4L1063.6 331.1L1065.6 332.9L1067.6 334.7L1069.6 336.7L1071.6 338.7L1073.6 340.8L1075.6 343L1077.6 345.3L1079.6 347.6L1081.6 349.9L1083.6 352.4L1085.6 354.8L1087.6 357.3L1089.6 359.6L1091.6 361.7L1093.6 363.8L1095.6 365.8L1097.6 367.7L1099.6 369.6L1101.6 371.5L1103.6 373.4L1105.6 375.2L1107.6 376.9L1109.6 378.7L1111.6 380.4L1113.6 382L1115.6 383.6L1117.6 385.2L1119.6 386.7L1121.6 388.2L1123.6 389.7L1125.6 391.1L1127.6 392.4L1129.6 393.7L1131.6 395L1133.6 396.1L1135.6 397.2L1137.6 398.3L1139.6 399.4L1141.6 400.5L1143.6 401.6L1145.6 402.7L1147.6 403.7L1149.6 404.8L1151.6 405.8L1153.6 406.9L1155.6 407.9L1157.6 408.9L1159.6 409.8L1161.6 410.7L1163.6 411.7L1165.6 412.6L1167.6 413.4L1169.6 414.2L1171.6 415L1173.6 415.7L1175.6 416.4L1177.6 417.1L1179.6 417.9L1181.6 418.8L1183.6 419.8L1185.6 420.8L1187.6 421.9L1189.6 423L1191.6 424L1193.6 425L1195.6 425.9L1197.6 426.8L1199.6 427.6L1201.6 428.3L1203.6 428.8L1205.6 429.3L1207.6 429.8L1209.6 430.2L1211.6 430.6L1213.6 430.9L1215.6 431.3L1217.6 431.6L1219.6 431.7L1221.6 431.9L1223.6 432L1225.6 432.1L1227.6 432.1L1229.6 432.1L1231.6 432L1233.6 432L1235.6 431.9L1237.6 431.8L1239.6 431.7L1241.6 431.6L1243.6 431.5L1245.6 431.4L1247.6 431.3L1249.6 431.2L1251.6 431.1L1253.6 430.9L1255.6 430.8L1257.6 430.8L1259.6 430.8L1261.6 430.8L1263.6 430.8L1265.6 430.8L1267.6 430.8L1269.6 430.8L1271.6 430.8L1273.6 430.8L1275.6 430.8L1277.6 430.8L1279.6 430.8L1281.6 430.8L1283.6 430.8L1285.6 430.8L1287.6 431.1L1289.6 431.5L1291.6 431.7L1293.6 431.6L1295.6 431.5L1297.6 431.3L1299.6 431L1301.6 430.8L1303.6 430.5L1305.6 430.2L1307.6 429.9L1309.6 429.6L1311.6 429.3L1313.6 428.8L1315.6 428.4L1317.6 428L1319.6 427.5L1321.6 427.1L1323.6 426.7L1325.6 426.4L1327.6 426L1329.6 425.7L1331.6 425.4L1333.6 425L1335.5 424.8L1337.5 424.5L1339.5 424.2L1341.5 424L1343.5 423.8L1345.5 423.6L1347.5 423.4L1349.5 423.2L1351.5 423L1353.5 422.9L1355.5 422.8L1357.5 422.7L1359.5 422.6L1361.5 422.6L1363.5 422.5L1365.5 422.5L1367.5 422.5L1369.5 422.4L1371.5 422.4L1373.5 422.4L1375.5 422.3L1377.5 422.2L1379.5 421.9L1381.5 421.6L1383.5 421.2L1385.5 420.7L1387.5 420L1389.5 419.1L1391.5 418L1393.5 416.6L1395.5 415L1397.5 413L1399.5 410.8L1401.5 408.4L1403.5 405.7L1405.5 402.6L1407.5 399.2L1409.5 395.7L1411.5 391.9L1413.5 387.9L1415.5 383.8L1417.5 379.8L1419.5 376L1421.5 372.6L1423.5 369.5L1425.5 367L1427.5 365.1L1429.5 363.8L1431.5 363.4L1433.5 363.8L1435.5 364.9L1437.5 366.6L1439.5 369L1441.5 372L1443.5 375.5L1445.5 379.7L1447.5 384.2L1449.5 389.2L1451.5 394.8L1453.5 400.4L1455.5 405.9L1457.5 411.1L1459.5 416.1L1461.5 420.6L1463.5 424.6L1465.5 428.3L1467.5 431.4L1469.5 434L1471.5 436.3L1473.5 438.2L1475.5 439.6L1477.5 440.5L1479.5 441.3L1481.5 441.8L1483 442"/>
<path id="B_aph_s" d="M889.1 237L889.7 237L892.7 234.9L895.7 231.7L898.7 227.8L901.7 223.5L904.7 218.6L907.7 211.9L910.7 204.8L913.7 199.8L916.7 196.9L919.7 194.7L922.7 192.8L925.7 191L928.7 189.4L931.7 187.7L934.7 185.5L937.7 182.6L940.7 179.1L943.7 175L946.7 170.6L949.7 166.3L952.7 162.2L955.7 158.6L958.7 155.6L961.7 154.1L964.7 154L967.7 155.3L970.7 157.9L973.7 161.9L976.7 167L979.7 172.7L982.7 178.4L985.7 183.7L988.7 187.7L991.7 190.6L994.7 192.8L997.7 194.4L1000.7 195.5L1003.7 196.3L1006.7 197.1L1009.7 198L1012.7 199.1L1015.7 200.5L1018.7 202.4L1021.7 204.9L1024.7 208.2L1027.7 212L1030.7 216.2L1033.7 220.4L1036.7 224.5L1039.6 228.6L1042.6 232.7L1045.6 236.7L1048.6 240.7L1051.6 244.6L1054.6 248.3L1057.6 251.9L1060.6 255.3L1063.6 258.6L1066.6 262L1069.6 265.6L1072.6 269.4L1075.6 273.5L1078.6 277.9L1081.6 282.8L1084.6 288.2L1087.6 293.8L1090.6 299L1093.6 304L1096.6 308.8L1099.6 313.4L1102.6 317.9L1105.6 322.3L1108.6 326.3L1111.6 329.8L1114.6 332.8L1117.6 335.7L1120.6 338.6L1123.6 341.7L1126.6 344.8L1129.6 347.6L1132.6 350.2L1135.6 352.5L1138.6 354.9L1141.6 357.4L1144.6 360.1L1147.6 362.8L1150.6 365.6L1153.6 368.4L1156.6 371.2L1159.6 374L1162.6 376.8L1165.6 379.6L1168.6 382.3L1171.6 385L1174.6 387.6L1177.6 390.4L1180.6 394.1L1183.6 398L1186.6 401L1189.6 403.4L1192.6 405.5L1195.6 407.5L1198.6 409.2L1201.6 410.7L1204.6 412.1L1207.6 413.3L1210.6 414.1L1213.6 414.7L1216.6 415.1L1219.6 415.3L1222.6 415.3L1225.6 415.3L1228.6 415.3L1231.6 415.3L1234.6 415.3L1237.6 415.3L1240.6 415.2L1243.6 415L1246.6 414.6L1249.6 414.3L1252.6 413.8L1255.6 413.5L1258.6 413.4L1261.6 413.4L1264.6 413.4L1267.6 413.5L1270.6 413.9L1273.6 414.3L1276.6 414.7L1279.6 415.2L1282.6 415.6L1285.6 416L1288.6 416.2L1291.6 416.2L1294.6 416L1297.6 415.6L1300.6 414.8L1303.6 413.6L1306.6 412.3L1309.6 411.2L1312.6 410.2L1315.6 409.3L1318.6 408.4L1321.6 407.6L1324.6 406.8L1327.6 406L1330.6 405.3L1333.6 404.6L1336.5 403.9L1339.5 403.4L1342.5 402.9L1345.5 402.5L1348.5 402.1L1351.5 401.8L1354.5 401.5L1357.5 401.4L1360.5 401.4L1363.5 401.4L1366.5 401.4L1369.5 401.4L1372.5 401.4L1375.5 401.4L1378.5 401L1381.5 400.2L1384.5 399L1387.5 397.2L1390.5 394.2L1393.5 390.5L1396.5 385.8L1399.5 380L1402.5 373.2L1405.5 364.7L1408.5 355.1L1411.5 345.2L1414.5 334.7L1417.5 324.5L1420.5 315.4L1423.5 308.1L1426.5 303.2L1429.5 300.9L1432.5 301.4L1435.5 304.7L1438.5 310.3L1441.5 318L1444.5 327.9L1447.5 339.3L1450.5 351.6L1453.5 364.6L1456.5 377.3L1459.5 389.4L1462.5 399.9L1465.5 408.6L1468.5 415.8L1471.5 421.7L1474.5 426.5L1477.5 430L1480.5 432.7L1483 434L1483 445.4L1480.5 445.4L1477.5 445.4L1474.5 445.4L1471.5 445.4L1468.5 445.3L1465.5 444.5L1462.5 443.3L1459.5 441.7L1456.5 439.3L1453.5 436.6L1450.5 433.8L1447.5 430.9L1444.5 428.5L1441.5 426.8L1438.5 425.5L1435.5 424.9L1432.5 425.1L1429.5 425.6L1426.5 426.3L1423.5 427.7L1420.5 429.6L1417.5 431.6L1414.5 433.6L1411.5 435.8L1408.5 438L1405.5 440.2L1402.5 442.2L1399.5 443.9L1396.5 445.4L1393.5 446.9L1390.5 448.2L1387.5 449.1L1384.5 449.7L1381.5 449.9L1378.5 450.2L1375.5 450.4L1372.5 450.5L1369.5 450.7L1366.5 450.9L1363.5 451L1360.5 451.1L1357.5 451.2L1354.5 451.3L1351.5 451.3L1348.5 451.4L1345.5 451.4L1342.5 451.4L1339.5 451.4L1336.5 451.4L1333.6 451.4L1330.6 451.4L1327.6 451.4L1324.6 451.4L1321.6 451.4L1318.6 451.4L1315.6 451.4L1312.6 451.4L1309.6 451.4L1306.6 451.4L1303.6 451.4L1300.6 451.4L1297.6 451.4L1294.6 451.4L1291.6 451.4L1288.6 450.1L1285.6 448.2L1282.6 448L1279.6 447.9L1276.6 447.9L1273.6 447.8L1270.6 447.8L1267.6 447.7L1264.6 447.7L1261.6 447.7L1258.6 447.6L1255.6 447.6L1252.6 447.5L1249.6 447.5L1246.6 447.4L1243.6 447.3L1240.6 447.3L1237.6 447.2L1234.6 447.1L1231.6 447L1228.6 447L1225.6 446.9L1222.6 446.8L1219.6 446.7L1216.6 446.6L1213.6 446.5L1210.6 446.4L1207.6 446.3L1204.6 446.3L1201.6 446.1L1198.6 446L1195.6 445.8L1192.6 445.6L1189.6 445.4L1186.6 445L1183.6 444.6L1180.6 443.2L1177.6 442.1L1174.6 441.8L1171.6 441.6L1168.6 441.4L1165.6 441.3L1162.6 441.2L1159.6 441L1156.6 440.7L1153.6 440.5L1150.6 440.2L1147.6 439.9L1144.6 439.6L1141.6 439.2L1138.6 438.8L1135.6 438.2L1132.6 437.6L1129.6 436.8L1126.6 436L1123.6 435.1L1120.6 434.2L1117.6 433.2L1114.6 432.2L1111.6 431L1108.6 429.8L1105.6 428.5L1102.6 427.2L1099.6 425.8L1096.6 424.4L1093.6 423L1090.6 421.5L1087.6 420L1084.6 418.4L1081.6 416.9L1078.6 415.3L1075.6 413.6L1072.6 412L1069.6 410.3L1066.6 408.6L1063.6 407L1060.6 405.3L1057.6 403.8L1054.6 402.3L1051.6 400.8L1048.6 399.3L1045.6 397.8L1042.6 396.3L1039.6 394.8L1036.7 393.3L1033.7 391.8L1030.7 390.3L1027.7 388.9L1024.7 387.6L1021.7 386.5L1018.7 385.8L1015.7 385.3L1012.7 385L1009.7 384.7L1006.7 384.4L1003.7 384.1L1000.7 383.7L997.7 383.1L994.7 382.4L991.7 381.5L988.7 380.5L985.7 379.1L982.7 377.5L979.7 375.8L976.7 373.8L973.7 371.7L970.7 370.3L967.7 369.6L964.7 369.3L961.7 369.1L958.7 369.2L955.7 369.8L952.7 370.9L949.7 372.2L946.7 373.6L943.7 375.2L940.7 376.7L937.7 377.8L934.7 378.7L931.7 379.6L928.7 380.3L925.7 381.2L922.7 382.1L919.7 383.1L916.7 384.4L913.7 385.9L910.7 387.6L907.7 389.6L904.7 391.8L901.7 394L898.7 395.6L895.7 397L892.7 398.1L889.7 398.9L889.1 398.9Z"/>
<clipPath id="cB_aph"><use href="#B_aph_s"/></clipPath>
<path id="B_ag" d="M889.7 209.4L891.7 211.7L893.7 214.7L895.7 217.6L897.7 220.5L899.7 223.4L901.7 226.3L903.7 229.1L905.7 231.8L907.7 234.6L909.7 237.3L911.7 240L913.7 242.6L915.7 245.2L917.7 247.8L919.7 250.3L921.7 252.9L923.7 255.3L925.7 257.8L927.7 260.2L929.7 262.6L931.7 265L933.7 267.3L935.7 269.6L937.7 271.9L939.7 274.2L941.7 276.4L943.7 278.6L945.7 280.7L947.7 282.9L949.7 285L951.7 287.1L953.7 289.2L955.7 291.2L957.7 293.2L959.7 295.2L961.7 297.2L963.7 299.1L965.7 301L967.7 302.9L969.7 304.8L971.7 306.6L973.7 308.5L975.7 310.3L977.7 312L979.7 313.8L981.7 315.5L983.7 317.2L985.7 318.9L987.7 320.6L989.7 322.3L991.7 323.9L993.7 325.5L995.7 327.1L997.7 328.7L999.7 330.2L1001.7 331.8L1003.7 333.3L1005.7 334.8L1007.7 336.3L1009.7 337.7L1011.7 339.2L1013.7 340.6L1015.7 342L1017.7 343.4L1019.7 344.8L1021.7 346.1L1023.7 347.5L1025.7 348.8L1027.7 350.1L1029.7 351.4L1031.7 352.7L1033.7 353.9L1035.7 355.2L1037.7 356.4L1039.6 357.6L1041.6 358.8L1043.6 360L1045.6 361.2L1047.6 362.3L1049.6 363.5L1051.6 364.6L1053.6 365.7L1055.6 366.8L1057.6 367.9L1059.6 369L1061.6 370L1063.6 371.1L1065.6 372.1L1067.6 373.1L1069.6 374.2L1071.6 375.1L1073.6 376.1L1075.6 377.1L1077.6 378.1L1079.6 379L1081.6 380L1083.6 380.9L1085.6 381.8L1087.6 382.7L1089.6 383.6L1091.6 384.5L1093.6 385.3L1095.6 386.2L1097.6 387.1L1099.6 387.9L1101.6 388.7L1103.6 389.5L1105.6 390.3L1107.6 391.1L1109.6 391.9L1111.6 392.7L1113.6 393.5L1115.6 394.2L1117.6 395L1119.6 395.7L1121.6 396.5L1123.6 397.2L1125.6 397.9L1127.6 398.6L1129.6 399.3L1131.6 400L1133.6 400.7L1135.6 401.4L1137.6 402L1139.6 402.7L1141.6 403.3L1143.6 404L1145.6 404.6L1147.6 405.2L1149.6 405.8L1151.6 406.4L1153.6 407L1155.6 407.6L1157.6 408.2L1159.6 408.8L1161.6 409.4L1163.6 409.9L1165.6 410.5L1167.6 411L1169.6 411.6L1171.6 412.1L1173.6 412.7L1175.6 413.2L1177.6 413.7L1179.6 414.2L1181.6 414.7L1183.6 415.2L1185.6 415.7L1187.6 416.2L1189.6 416.7L1191.6 417.2L1193.6 417.6L1195.6 418.1L1197.6 418.6L1199.6 419L1201.6 419.5L1203.6 419.9L1205.6 420.3L1207.6 420.8L1209.6 421.2L1211.6 421.6L1213.6 422L1215.6 422.4L1217.6 422.8L1219.6 423.2L1221.6 423.6L1223.6 424L1225.6 424.4L1227.6 424.8L1229.6 425.2L1231.6 425.5L1233.6 425.9L1235.6 426.3L1237.6 426.6L1239.6 427L1241.6 427.3L1243.6 427.7L1245.6 428L1247.6 428.4L1249.6 428.7L1251.6 429L1253.6 429.3L1255.6 429.7L1257.6 430L1259.6 430.3L1261.6 430.6L1263.6 430.9L1265.6 431.2L1267.6 431.5L1269.6 431.8L1271.6 432.1L1273.6 432.4L1275.6 432.7L1277.6 432.9L1279.6 433.2L1281.6 433.5L1283.6 433.8L1285.6 434L1287.6 434.3L1289.6 434.6L1291.6 434.8L1293.6 435.1L1295.6 435.3L1297.6 435.6L1299.6 435.8L1301.6 436L1303.6 436.3L1305.6 436.5L1307.6 436.8L1309.6 437L1311.6 437.2L1313.6 437.4L1315.6 437.7L1317.6 437.9L1319.6 438.1L1321.6 438.3L1323.6 438.5L1325.6 438.7L1327.6 438.9L1329.6 439.1L1331.6 439.3L1333.6 439.5L1335.5 439.7L1337.5 439.9L1339.5 440.1L1341.5 440.3L1343.5 440.5L1345.5 440.7L1347.5 440.9L1349.5 441L1351.5 441.2L1353.5 441.4L1355.5 441.6L1357.5 441.7L1359.5 441.9L1361.5 442.1L1363.5 442.2L1365.5 442.4L1367.5 442.6L1369.5 442.7L1371.5 442.9L1373.5 443L1375.5 443.2L1377.5 443.3L1379.5 443.5L1381.5 443.6L1383.5 443.8L1385.5 443.9L1387.5 444.1L1389.5 444.2L1391.5 444.3L1393.5 444.5L1395.5 444.6L1397.5 444.7L1399.5 444.9L1401.5 445L1403.5 445.1L1405.5 445.3L1407.5 445.4L1409.5 445.5L1411.5 445.6L1413.5 445.7L1415.5 445.9L1417.5 446L1419.5 446.1L1421.5 446.2L1423.5 446.3L1425.5 446.4L1427.5 446.6L1429.5 446.7L1431.5 446.8L1433.5 446.9L1435.5 447L1437.5 447.1L1439.5 447.2L1441.5 447.3L1443.5 447.4L1445.5 447.5L1447.5 447.6L1449.5 447.7L1451.5 447.8L1453.5 447.9L1455.5 448L1457.5 448.1L1459.5 448.2L1461.5 448.2L1463.5 448.3L1465.5 448.4L1467.5 448.5L1469.5 448.6L1471.5 448.7L1473.5 448.8L1475.5 448.8L1477.5 448.9L1479.5 449L1481.5 449.1L1483 449.1"/>
<path id="B_ag_s" d="M889.1 109.6L889.7 109.6L892.7 114.3L895.7 119.9L898.7 125.5L901.7 131.2L904.7 137L907.7 142.8L910.7 148.5L913.7 154L916.7 159.3L919.7 164.5L922.7 169.6L925.7 174.6L928.7 179.4L931.7 184.1L934.7 188.7L937.7 193.2L940.7 197.6L943.7 202L946.7 206.3L949.7 210.5L952.7 214.7L955.7 218.8L958.7 222.8L961.7 226.8L964.7 230.7L967.7 234.6L970.7 238.4L973.7 242.2L976.7 245.9L979.7 249.6L982.7 253.2L985.7 256.7L988.7 260.1L991.7 263.5L994.7 266.8L997.7 270L1000.7 273.1L1003.7 276.1L1006.7 279L1009.7 281.9L1012.7 284.7L1015.7 287.5L1018.7 290.2L1021.7 292.9L1024.7 295.5L1027.7 298.2L1030.7 300.7L1033.7 303.3L1036.7 305.8L1039.6 308.3L1042.6 310.8L1045.6 313.2L1048.6 315.7L1051.6 318.1L1054.6 320.5L1057.6 322.8L1060.6 325.1L1063.6 327.3L1066.6 329.6L1069.6 331.8L1072.6 333.9L1075.6 336L1078.6 338.1L1081.6 340.1L1084.6 342.1L1087.6 344L1090.6 346L1093.6 347.8L1096.6 349.6L1099.6 351.4L1102.6 353.1L1105.6 354.7L1108.6 356.2L1111.6 357.8L1114.6 359.3L1117.6 360.8L1120.6 362.3L1123.6 363.9L1126.6 365.4L1129.6 366.9L1132.6 368.5L1135.6 369.9L1138.6 371.4L1141.6 372.7L1144.6 374L1147.6 375.3L1150.6 376.6L1153.6 377.8L1156.6 379L1159.6 380.2L1162.6 381.4L1165.6 382.3L1168.6 383.3L1171.6 384.3L1174.6 385.5L1177.6 387L1180.6 389.2L1183.6 391.5L1186.6 393L1189.6 394L1192.6 394.9L1195.6 395.7L1198.6 396.5L1201.6 397.5L1204.6 398.6L1207.6 399.7L1210.6 400.8L1213.6 401.8L1216.6 402.8L1219.6 403.8L1222.6 404.7L1225.6 405.6L1228.6 406.4L1231.6 407.3L1234.6 408.1L1237.6 408.9L1240.6 409.6L1243.6 410.4L1246.6 411.1L1249.6 411.8L1252.6 412.5L1255.6 413.2L1258.6 413.9L1261.6 414.6L1264.6 415.4L1267.6 416.1L1270.6 416.8L1273.6 417.4L1276.6 418L1279.6 418.4L1282.6 418.9L1285.6 419.3L1288.6 419.8L1291.6 420.2L1294.6 420.6L1297.6 421.1L1300.6 421.5L1303.6 422L1306.6 422.4L1309.6 422.9L1312.6 423.3L1315.6 423.8L1318.6 424.3L1321.6 424.8L1324.6 425.3L1327.6 425.8L1330.6 426.3L1333.6 426.8L1336.5 427.3L1339.5 427.9L1342.5 428.4L1345.5 428.9L1348.5 429.3L1351.5 429.8L1354.5 430.3L1357.5 430.7L1360.5 431.1L1363.5 431.6L1366.5 432L1369.5 432.3L1372.5 432.7L1375.5 433.1L1378.5 433.5L1381.5 433.8L1384.5 434.2L1387.5 434.5L1390.5 434.9L1393.5 435.2L1396.5 435.6L1399.5 435.9L1402.5 436.2L1405.5 436.5L1408.5 436.8L1411.5 437.1L1414.5 437.4L1417.5 437.7L1420.5 438L1423.5 438.3L1426.5 438.5L1429.5 438.8L1432.5 439L1435.5 439.3L1438.5 439.5L1441.5 439.7L1444.5 439.9L1447.5 440.1L1450.5 440.3L1453.5 440.6L1456.5 440.8L1459.5 441L1462.5 441.2L1465.5 441.5L1468.5 441.7L1471.5 441.9L1474.5 442.2L1477.5 442.4L1480.5 442.7L1483 442.8L1483 452.5L1480.5 452.5L1477.5 452.5L1474.5 452.5L1471.5 452.4L1468.5 452.4L1465.5 452.4L1462.5 452.4L1459.5 452.4L1456.5 452.4L1453.5 452.4L1450.5 452.3L1447.5 452.3L1444.5 452.3L1441.5 452.2L1438.5 452.2L1435.5 452.2L1432.5 452.1L1429.5 452.1L1426.5 452.1L1423.5 452L1420.5 452L1417.5 451.9L1414.5 451.9L1411.5 451.8L1408.5 451.8L1405.5 451.7L1402.5 451.6L1399.5 451.6L1396.5 451.5L1393.5 451.5L1390.5 451.4L1387.5 451.2L1384.5 451L1381.5 450.7L1378.5 450.4L1375.5 450.1L1372.5 449.7L1369.5 449.4L1366.5 449L1363.5 448.7L1360.5 448.4L1357.5 448.1L1354.5 447.8L1351.5 447.7L1348.5 447.6L1345.5 447.5L1342.5 447.4L1339.5 447.3L1336.5 447.2L1333.6 447.1L1330.6 447.1L1327.6 447L1324.6 446.9L1321.6 446.9L1318.6 446.8L1315.6 446.8L1312.6 446.7L1309.6 446.7L1306.6 446.7L1303.6 446.6L1300.6 446.6L1297.6 446.5L1294.6 446.5L1291.6 446.5L1288.6 446.4L1285.6 446.4L1282.6 446.3L1279.6 446.3L1276.6 446.2L1273.6 446.2L1270.6 446.1L1267.6 446L1264.6 446L1261.6 445.9L1258.6 445.8L1255.6 445.7L1252.6 445.6L1249.6 445.5L1246.6 445.4L1243.6 445.2L1240.6 445.1L1237.6 444.9L1234.6 444.7L1231.6 444.6L1228.6 444.4L1225.6 444.2L1222.6 444.1L1219.6 443.9L1216.6 443.7L1213.6 443.5L1210.6 443.2L1207.6 443L1204.6 442.7L1201.6 442.5L1198.6 442.2L1195.6 442L1192.6 441.8L1189.6 441.6L1186.6 441.5L1183.6 441.5L1180.6 443L1177.6 443.9L1174.6 443.7L1171.6 443.4L1168.6 442.9L1165.6 442.5L1162.6 442L1159.6 441.5L1156.6 441.1L1153.6 440.6L1150.6 440.1L1147.6 439.5L1144.6 438.9L1141.6 438.3L1138.6 437.7L1135.6 437L1132.6 436.3L1129.6 435.5L1126.6 434.7L1123.6 433.9L1120.6 433.2L1117.6 432.4L1114.6 431.7L1111.6 430.9L1108.6 430.2L1105.6 429.4L1102.6 428.7L1099.6 427.9L1096.6 427.1L1093.6 426.3L1090.6 425.5L1087.6 424.6L1084.6 423.8L1081.6 422.9L1078.6 422L1075.6 421.1L1072.6 420.2L1069.6 419.2L1066.6 418.3L1063.6 417.3L1060.6 416.2L1057.6 415.1L1054.6 414L1051.6 412.8L1048.6 411.6L1045.6 410.4L1042.6 409.1L1039.6 407.8L1036.7 406.6L1033.7 405.2L1030.7 403.9L1027.7 402.5L1024.7 401.1L1021.7 399.7L1018.7 398.4L1015.7 397L1012.7 395.7L1009.7 394.3L1006.7 393L1003.7 391.6L1000.7 390.3L997.7 389L994.7 387.6L991.7 386.3L988.7 385L985.7 383.7L982.7 382.3L979.7 380.8L976.7 379.3L973.7 377.8L970.7 376.2L967.7 374.6L964.7 372.8L961.7 371L958.7 369.1L955.7 367.1L952.7 364.9L949.7 362.7L946.7 360.3L943.7 357.9L940.7 355.5L937.7 353.1L934.7 350.7L931.7 348.2L928.7 345.6L925.7 343L922.7 340.4L919.7 337.7L916.7 335L913.7 332.2L910.7 329.4L907.7 326.6L904.7 323.7L901.7 320.7L898.7 317.7L895.7 314.5L892.7 311.3L889.7 308.6L889.1 308.6Z"/>
<clipPath id="cB_ag"><use href="#B_ag_s"/></clipPath>
<path id="B_ad" d="M889.7 423.5L891.7 423.8L893.7 424.1L895.7 424.4L897.7 424.7L899.7 424.9L901.7 425.2L903.7 425.5L905.7 425.8L907.7 426.1L909.7 426.3L911.7 426.6L913.7 426.9L915.7 427.2L917.7 427.4L919.7 427.7L921.7 427.9L923.7 428.2L925.7 428.5L927.7 428.7L929.7 429L931.7 429.2L933.7 429.5L935.7 429.7L937.7 429.9L939.7 430.2L941.7 430.4L943.7 430.7L945.7 430.9L947.7 431.1L949.7 431.3L951.7 431.6L953.7 431.8L955.7 432L957.7 432.2L959.7 432.5L961.7 432.7L963.7 432.9L965.7 433.1L967.7 433.3L969.7 433.5L971.7 433.7L973.7 433.9L975.7 434.1L977.7 434.3L979.7 434.5L981.7 434.7L983.7 434.9L985.7 435.1L987.7 435.3L989.7 435.5L991.7 435.7L993.7 435.9L995.7 436L997.7 436.2L999.7 436.4L1001.7 436.6L1003.7 436.8L1005.7 436.9L1007.7 437.1L1009.7 437.3L1011.7 437.4L1013.7 437.6L1015.7 437.8L1017.7 438L1019.7 438.1L1021.7 438.3L1023.7 438.4L1025.7 438.6L1027.7 438.8L1029.7 438.9L1031.7 439.1L1033.7 439.2L1035.7 439.4L1037.7 439.5L1039.6 439.7L1041.6 439.8L1043.6 440L1045.6 440.1L1047.6 440.3L1049.6 440.4L1051.6 440.5L1053.6 440.7L1055.6 440.8L1057.6 441L1059.6 441.1L1061.6 441.2L1063.6 441.4L1065.6 441.5L1067.6 441.6L1069.6 441.8L1071.6 441.9L1073.6 442L1075.6 442.1L1077.6 442.3L1079.6 442.4L1081.6 442.5L1083.6 442.6L1085.6 442.8L1087.6 442.9L1089.6 443L1091.6 443.1L1093.6 443.2L1095.6 443.3L1097.6 443.5L1099.6 443.6L1101.6 443.7L1103.6 443.8L1105.6 443.9L1107.6 444L1109.6 444.1L1111.6 444.2L1113.6 444.3L1115.6 444.4L1117.6 444.5L1119.6 444.6L1121.6 444.7L1123.6 444.8L1125.6 444.9L1127.6 445L1129.6 445.1L1131.6 445.2L1133.6 445.3L1135.6 445.4L1137.6 445.5L1139.6 445.6L1141.6 445.7L1143.6 445.8L1145.6 445.9L1147.6 446L1149.6 446.1L1151.6 446.2L1153.6 446.2L1155.6 446.3L1157.6 446.4L1159.6 446.5L1161.6 446.6L1163.6 446.7L1165.6 446.7L1167.6 446.8L1169.6 446.9L1171.6 447L1173.6 447.1L1175.6 447.2L1177.6 447.2L1179.6 447.3L1181.6 447.4L1183.6 447.5L1185.6 447.5L1187.6 447.6L1189.6 447.7L1191.6 447.8L1193.6 447.8L1195.6 447.9L1197.6 448L1199.6 448L1201.6 448.1L1203.6 448.2L1205.6 448.2L1207.6 448.3L1209.6 448.4L1211.6 448.5L1213.6 448.5L1215.6 448.6L1217.6 448.6L1219.6 448.7L1221.6 448.8L1223.6 448.8L1225.6 448.9L1227.6 449L1229.6 449L1231.6 449.1L1233.6 449.1L1235.6 449.2L1237.6 449.3L1239.6 449.3L1241.6 449.4L1243.6 449.4L1245.6 449.5L1247.6 449.5L1249.6 449.6L1251.6 449.7L1253.6 449.7L1255.6 449.8L1257.6 449.8L1259.6 449.9L1261.6 449.9L1263.6 450L1265.6 450L1267.6 450.1L1269.6 450.1L1271.6 450.2L1273.6 450.2L1275.6 450.3L1277.6 450.3L1279.6 450.4L1281.6 450.4L1283.6 450.5L1285.6 450.5L1287.6 450.6L1289.6 450.6L1291.6 450.7L1293.6 450.7L1295.6 450.8L1297.6 450.8L1299.6 450.8L1301.6 450.9L1303.6 450.9L1305.6 451L1307.6 451L1309.6 451.1L1311.6 451.1L1313.6 451.1L1315.6 451.2L1317.6 451.2L1319.6 451.3L1321.6 451.3L1323.6 451.3L1325.6 451.4L1327.6 451.4L1329.6 451.5L1331.6 451.5L1333.6 451.5L1335.5 451.6L1337.5 451.6L1339.5 451.6L1341.5 451.7L1343.5 451.7L1345.5 451.7L1347.5 451.8L1349.5 451.8L1351.5 451.8L1353.5 451.9L1355.5 451.9L1357.5 452L1359.5 452L1361.5 452L1363.5 452L1365.5 452.1L1367.5 452.1L1369.5 452.1L1371.5 452.2L1373.5 452.2L1375.5 452.2L1377.5 452.3L1379.5 452.3L1381.5 452.3L1383.5 452.4L1385.5 452.4L1387.5 452.4L1389.5 452.4L1391.5 452.5L1393.5 452.5L1395.5 452.5L1397.5 452.6L1399.5 452.6L1401.5 452.6L1403.5 452.6L1405.5 452.7L1407.5 452.7L1409.5 452.7L1411.5 452.7L1413.5 452.8L1415.5 452.8L1417.5 452.8L1419.5 452.8L1421.5 452.9L1423.5 452.9L1425.5 452.9L1427.5 452.9L1429.5 453L1431.5 453L1433.5 453L1435.5 453L1437.5 453.1L1439.5 453.1L1441.5 453.1L1443.5 453.1L1445.5 453.2L1447.5 453.2L1449.5 453.2L1451.5 453.2L1453.5 453.2L1455.5 453.3L1457.5 453.3L1459.5 453.3L1461.5 453.3L1463.5 453.3L1465.5 453.4L1467.5 453.4L1469.5 453.4L1471.5 453.4L1473.5 453.4L1475.5 453.5L1477.5 453.5L1479.5 453.5L1481.5 453.5L1483 453.5"/>
<path id="B_ad_s" d="M889.1 403.7L889.7 403.7L892.7 404.3L895.7 405L898.7 405.7L901.7 406.4L904.7 407.1L907.7 407.8L910.7 408.5L913.7 409.2L916.7 409.8L919.7 410.5L922.7 411.1L925.7 411.7L928.7 412.3L931.7 413L934.7 413.6L937.7 414.2L940.7 414.7L943.7 415.3L946.7 415.9L949.7 416.4L952.7 417L955.7 417.5L958.7 418.1L961.7 418.6L964.7 419.1L967.7 419.6L970.7 420.2L973.7 420.7L976.7 421.1L979.7 421.6L982.7 422.1L985.7 422.6L988.7 423L991.7 423.5L994.7 424L997.7 424.4L1000.7 424.8L1003.7 425.3L1006.7 425.7L1009.7 426.1L1012.7 426.5L1015.7 427L1018.7 427.4L1021.7 427.8L1024.7 428.2L1027.7 428.5L1030.7 428.9L1033.7 429.3L1036.7 429.7L1039.6 430L1042.6 430.4L1045.6 430.7L1048.6 431.1L1051.6 431.4L1054.6 431.8L1057.6 432.1L1060.6 432.5L1063.6 432.8L1066.6 433.1L1069.6 433.4L1072.6 433.7L1075.6 434L1078.6 434.3L1081.6 434.6L1084.6 434.9L1087.6 435.2L1090.6 435.5L1093.6 435.8L1096.6 436.1L1099.6 436.4L1102.6 436.6L1105.6 436.9L1108.6 437.2L1111.6 437.4L1114.6 437.7L1117.6 437.9L1120.6 438.2L1123.6 438.4L1126.6 438.7L1129.6 438.9L1132.6 439.1L1135.6 439.4L1138.6 439.6L1141.6 439.8L1144.6 440L1147.6 440.3L1150.6 440.5L1153.6 440.7L1156.6 440.9L1159.6 441.1L1162.6 441.3L1165.6 441.5L1168.6 441.7L1171.6 441.9L1174.6 442.1L1177.6 442.3L1180.6 442.5L1183.6 442.7L1186.6 442.8L1189.6 443L1192.6 443.2L1195.6 443.4L1198.6 443.5L1201.6 443.7L1204.6 443.9L1207.6 444L1210.6 444.2L1213.6 444.4L1216.6 444.5L1219.6 444.7L1222.6 444.8L1225.6 445L1228.6 445.1L1231.6 445.3L1234.6 445.4L1237.6 445.6L1240.6 445.7L1243.6 445.8L1246.6 446L1249.6 446.1L1252.6 446.2L1255.6 446.4L1258.6 446.5L1261.6 446.6L1264.6 446.8L1267.6 446.9L1270.6 447L1273.6 447.1L1276.6 447.2L1279.6 447.4L1282.6 447.5L1285.6 447.6L1288.6 447.7L1291.6 447.8L1294.6 447.9L1297.6 448L1300.6 448.1L1303.6 448.2L1306.6 448.3L1309.6 448.4L1312.6 448.5L1315.6 448.6L1318.6 448.7L1321.6 448.8L1324.6 448.9L1327.6 449L1330.6 449.1L1333.6 449.2L1336.5 449.3L1339.5 449.4L1342.5 449.5L1345.5 449.5L1348.5 449.6L1351.5 449.7L1354.5 449.8L1357.5 449.9L1360.5 450L1363.5 450L1366.5 450.1L1369.5 450.2L1372.5 450.3L1375.5 450.3L1378.5 450.4L1381.5 450.5L1384.5 450.6L1387.5 450.6L1390.5 450.7L1393.5 450.8L1396.5 450.8L1399.5 450.9L1402.5 451L1405.5 451L1408.5 451.1L1411.5 451.2L1414.5 451.2L1417.5 451.3L1420.5 451.3L1423.5 451.4L1426.5 451.5L1429.5 451.5L1432.5 451.6L1435.5 451.6L1438.5 451.7L1441.5 451.7L1444.5 451.8L1447.5 451.8L1450.5 451.9L1453.5 451.9L1456.5 452L1459.5 452L1462.5 452.1L1465.5 452.1L1468.5 452.2L1471.5 452.2L1474.5 452.3L1477.5 452.3L1480.5 452.4L1483 452.4L1483 455.2L1480.5 455.2L1477.5 455.2L1474.5 455.2L1471.5 455.2L1468.5 455.2L1465.5 455.2L1462.5 455.1L1459.5 455.1L1456.5 455.1L1453.5 455.1L1450.5 455.1L1447.5 455.1L1444.5 455.1L1441.5 455.1L1438.5 455.1L1435.5 455.1L1432.5 455.1L1429.5 455.1L1426.5 455.1L1423.5 455.1L1420.5 455L1417.5 455L1414.5 455L1411.5 455L1408.5 455L1405.5 455L1402.5 455L1399.5 455L1396.5 455L1393.5 455L1390.5 455L1387.5 454.9L1384.5 454.9L1381.5 454.9L1378.5 454.9L1375.5 454.9L1372.5 454.9L1369.5 454.9L1366.5 454.9L1363.5 454.9L1360.5 454.8L1357.5 454.8L1354.5 454.8L1351.5 454.8L1348.5 454.8L1345.5 454.8L1342.5 454.8L1339.5 454.8L1336.5 454.7L1333.6 454.7L1330.6 454.7L1327.6 454.7L1324.6 454.7L1321.6 454.7L1318.6 454.6L1315.6 454.6L1312.6 454.6L1309.6 454.6L1306.6 454.6L1303.6 454.6L1300.6 454.5L1297.6 454.5L1294.6 454.5L1291.6 454.5L1288.6 454.5L1285.6 454.5L1282.6 454.4L1279.6 454.4L1276.6 454.4L1273.6 454.4L1270.6 454.4L1267.6 454.3L1264.6 454.3L1261.6 454.3L1258.6 454.3L1255.6 454.2L1252.6 454.2L1249.6 454.2L1246.6 454.2L1243.6 454.1L1240.6 454.1L1237.6 454.1L1234.6 454.1L1231.6 454L1228.6 454L1225.6 454L1222.6 454L1219.6 453.9L1216.6 453.9L1213.6 453.9L1210.6 453.8L1207.6 453.8L1204.6 453.8L1201.6 453.7L1198.6 453.7L1195.6 453.7L1192.6 453.6L1189.6 453.6L1186.6 453.6L1183.6 453.5L1180.6 453.5L1177.6 453.5L1174.6 453.4L1171.6 453.4L1168.6 453.4L1165.6 453.3L1162.6 453.3L1159.6 453.2L1156.6 453.2L1153.6 453.1L1150.6 453.1L1147.6 453.1L1144.6 453L1141.6 453L1138.6 452.9L1135.6 452.9L1132.6 452.8L1129.6 452.8L1126.6 452.7L1123.6 452.7L1120.6 452.6L1117.6 452.6L1114.6 452.5L1111.6 452.4L1108.6 452.4L1105.6 452.3L1102.6 452.3L1099.6 452.2L1096.6 452.2L1093.6 452.1L1090.6 452L1087.6 452L1084.6 451.9L1081.6 451.8L1078.6 451.8L1075.6 451.7L1072.6 451.6L1069.6 451.5L1066.6 451.5L1063.6 451.4L1060.6 451.3L1057.6 451.2L1054.6 451.2L1051.6 451.1L1048.6 451L1045.6 450.9L1042.6 450.8L1039.6 450.7L1036.7 450.7L1033.7 450.6L1030.7 450.5L1027.7 450.4L1024.7 450.3L1021.7 450.2L1018.7 450.1L1015.7 450L1012.7 449.9L1009.7 449.8L1006.7 449.7L1003.7 449.6L1000.7 449.4L997.7 449.3L994.7 449.2L991.7 449.1L988.7 449L985.7 448.9L982.7 448.7L979.7 448.6L976.7 448.5L973.7 448.4L970.7 448.2L967.7 448.1L964.7 447.9L961.7 447.8L958.7 447.7L955.7 447.5L952.7 447.4L949.7 447.2L946.7 447.1L943.7 446.9L940.7 446.7L937.7 446.6L934.7 446.4L931.7 446.2L928.7 446.1L925.7 445.9L922.7 445.7L919.7 445.5L916.7 445.3L913.7 445.2L910.7 445L907.7 444.8L904.7 444.6L901.7 444.4L898.7 444.2L895.7 443.9L892.7 443.7L889.7 443.5L889.1 443.5Z"/>
<clipPath id="cB_ad"><use href="#B_ad_s"/></clipPath>
<path id="C_aw" d="M109 960.8L111 960.8L113 960.8L115 960.8L117 960.8L119 960.8L121 960.8L123 960.7L125 960.6L127 960.5L129 960.4L131 960.3L133 960.2L135 960L137 959.9L139 959.7L141 959.6L143 959.4L145 959.2L147 959L149 958.8L151 958.5L153 958.3L155 958.1L157 957.9L159 957.7L161 957.6L163 957.4L165 957.2L167 957L169 956.8L171 956.6L173 956.4L175 956.1L177 955.7L179 955.3L181 954.8L183 954.2L185 953.6L187 952.9L189 952.1L191 951.2L193 950.3L195 949.3L197 948.1L199 946.9L201 945.6L203 944.4L205 943.1L207 941.9L209 941L211 940.2L213 939.6L215 939L217 938.5L219 938L221 937.5L223 937L225 936.4L227 935.8L229 935.2L231 934.6L233 933.9L235 933.1L237 932.3L239 931.4L241 930.4L243 929.3L245 928.1L247 926.9L249 925.6L251 924.3L253 922.9L255 921.5L257 920.1L258.9 918.6L260.9 917.1L262.9 915.5L264.9 913.9L266.9 912.2L268.9 910.5L270.9 908.8L272.9 907.1L274.9 905.3L276.9 903.3L278.9 901.2L280.9 898.9L282.9 896.5L284.9 894L286.9 891.3L288.9 888.5L290.9 885.5L292.9 882L294.9 878.2L296.9 874.1L298.9 869.9L300.9 865.6L302.9 861.2L304.9 856.5L306.9 851.5L308.9 846.4L310.9 841.2L312.9 835.9L314.9 830.1L316.9 823.8L318.9 817L320.9 810.2L322.9 803.5L324.9 796.9L326.9 790.3L328.9 784L330.9 778L332.9 772.4L334.9 767.4L336.9 763.4L338.9 760.3L340.9 757.8L342.9 755.4L344.9 753.1L346.9 750.8L348.9 748.6L350.9 746.4L352.9 744.2L354.9 741.9L356.9 739.7L358.9 737.4L360.9 735.2L362.9 732.9L364.9 730.6L366.9 728.3L368.9 725.8L370.9 723.4L372.9 721L374.9 718.7L376.9 716.4L378.9 714.2L380.9 712.1L382.9 709.9L384.9 707.9L386.9 706L388.9 703.8L390.9 701.4L392.9 698.7L394.9 695.8L396.9 692.9L398.9 689.8L400.9 686.8L402.9 683.9L404.9 681.1L406.9 678.5L408.9 676.2L410.9 674.3L412.9 672.8L414.9 671.3L416.9 669.9L418.9 668.4L420.9 666.9L422.9 665.4L424.9 663.9L426.9 662.2L428.9 660.8L430.9 659.7L432.9 659L434.9 658.3L436.9 657.3L438.9 655.9L440.9 654.3L442.9 652.7L444.9 651.4L446.9 650.1L448.9 648.9L450.9 647.6L452.9 646.3L454.9 644.8L456.9 643.4L458.9 642.1L460.9 640.7L462.9 639.4L464.9 638L466.9 636.6L468.9 635L470.9 633.5L472.9 632.1L474.9 630.7L476.9 629.3L478.9 628L480.9 626.6L482.9 625.3L484.9 624L486.9 622.7L488.9 621.5L490.9 620.4L492.9 619.3L494.9 618.2L496.9 617.1L498.9 616L500.9 614.9L502.9 613.9L504.9 612.9L506.9 612.1L508.9 611.3L510.9 610.8L512.9 610.4L514.9 610.1L516.9 609.9L518.9 609.7L520.9 609.7L522.9 609.6L524.9 609.6L526.9 609.5L528.9 609.5L530.9 609.5L532.9 609.4L534.9 609.3L536.9 609.3L538.9 609.2L540.9 609.1L542.9 609L544.9 608.9L546.9 608.9L548.9 608.8L550.9 608.7L552.9 608.6L554.8 608.5L556.8 608.5L558.8 608.4L560.8 608.3L562.8 608.2L564.8 608.2L566.8 608.1L568.8 608L570.8 607.9L572.8 607.9L574.8 607.8L576.8 607.7L578.8 607.6L580.8 607.4L582.8 607.3L584.8 607.2L586.8 607L588.8 606.9L590.8 606.8L592.8 606.7L594.8 606.6L596.8 606.6L598.8 606.5L600.8 606.5L602.8 606.4L604.8 606.5L606.8 606.5L608.8 606.5L610.8 606.6L612.8 606.7L614.8 607L616.8 607.3L618.8 607.7L620.8 608L622.8 608.5L624.8 609L626.8 609.4L628.8 609.8L630.8 610.2L632.8 610.6L634.8 610.9L636.8 611.1L638.8 611.3L640.8 611.5L642.8 611.5L644.8 611.5L646.8 611.5L648.8 611.4L650.8 611.3L652.8 611.1L654.8 610.7L656.8 610.3L658.8 609.9L660.8 609.4L662.8 608.8L664.8 608.2L666.8 607.5L668.8 606.9L670.8 606.3L672.8 605.7L674.8 605.1L676.8 604.5L678.8 604L680.8 603.5L682.8 603L684.8 602.7L686.8 602.3L688.8 602.1L690.8 601.8L692.8 601.7L694.8 601.5L696.8 601.3L698.8 601.2L700.8 601.1L702.3 601"/>
<path id="C_aph" d="M109 919.2L111 917.7L113 915.6L115 913.5L117 911.3L119 909.1L121 906.7L123 904.3L125 901.9L127 899.5L129 897.1L131 894.8L133 892.5L135 890.4L137 888.4L139 886.6L141 885L143 883.5L145 881.9L147 880.2L149 878.4L151 876.4L153 874.3L155 872.3L157 870.1L159 867.9L161 865.7L163 863.4L165 861.3L167 859.3L169 857.4L171 855.5L173 853.8L175 852.3L177 851L179 849.8L181 848.7L183 847.9L185 847.3L187 846.8L189 846.4L191 846.2L193 846L195 846.1L197 846.2L199 846.5L201 846.7L203 847L205 847.2L207 847.4L209 847.4L211 846.9L213 846.2L215 845.4L217 844.5L219 843.5L221 842.5L223 841.4L225 840.5L227 839.6L229 838.7L231 837.8L233 837.1L235 836.5L237 836L239 835.5L241 835.3L243 835.2L245 835.3L247 835.5L249 835.7L251 836.1L253 836.6L255 837.2L257 837.9L258.9 838.6L260.9 839.4L262.9 840.1L264.9 841L266.9 841.8L268.9 842.7L270.9 843.6L272.9 844.6L274.9 845.6L276.9 846.7L278.9 847.9L280.9 849.2L282.9 850.6L284.9 852.1L286.9 853.7L288.9 855.5L290.9 857.4L292.9 859.5L294.9 861.6L296.9 863.9L298.9 866.4L300.9 868.9L302.9 871.6L304.9 874.4L306.9 877.2L308.9 880.2L310.9 883.2L312.9 886.2L314.9 889.4L316.9 892.5L318.9 895.8L320.9 899L322.9 902.2L324.9 905.3L326.9 908.3L328.9 911.3L330.9 914L332.9 916.4L334.9 918.4L336.9 920.2L338.9 921.8L340.9 923.2L342.9 924.5L344.9 925.7L346.9 926.7L348.9 927.6L350.9 928.6L352.9 929.5L354.9 930.5L356.9 931.5L358.9 932.5L360.9 933.5L362.9 934.5L364.9 935.4L366.9 936.4L368.9 937.3L370.9 938.1L372.9 939L374.9 939.8L376.9 940.6L378.9 941.3L380.9 941.9L382.9 942.5L384.9 943L386.9 943.6L388.9 944.4L390.9 945.3L392.9 946.3L394.9 947.4L396.9 948.4L398.9 949.6L400.9 950.8L402.9 952L404.9 953.1L406.9 953.9L408.9 954.5L410.9 955L412.9 955.4L414.9 955.9L416.9 956.4L418.9 956.9L420.9 957.5L422.9 958L424.9 958.5L426.9 958.9L428.9 959.3L430.9 959.7L432.9 960L434.9 960.3L436.9 960.5L438.9 960.7L440.9 960.9L442.9 961L444.9 961.2L446.9 961.3L448.9 961.5L450.9 961.6L452.9 961.7L454.9 961.8L456.9 961.9L458.9 962L460.9 962.1L462.9 962.2L464.9 962.3L466.9 962.4L468.9 962.5L470.9 962.6L472.9 962.7L474.9 962.9L476.9 963.1L478.9 963.3L480.9 963.6L482.9 963.8L484.9 963.9L486.9 964.1L488.9 964.3L490.9 964.6L492.9 964.8L494.9 965.1L496.9 965.4L498.9 965.7L500.9 966L502.9 966.3L504.9 966.6L506.9 966.8L508.9 966.9L510.9 967L512.9 967L514.9 967L516.9 967L518.9 967L520.9 967L522.9 967L524.9 967L526.9 967L528.9 967L530.9 966.9L532.9 966.9L534.9 966.8L536.9 966.8L538.9 966.7L540.9 966.6L542.9 966.5L544.9 966.5L546.9 966.4L548.9 966.3L550.9 966.3L552.9 966.2L554.8 966.2L556.8 966.2L558.8 966.1L560.8 966L562.8 966L564.8 965.9L566.8 965.7L568.8 965.4L570.8 965.1L572.8 964.9L574.8 964.7L576.8 964.7L578.8 964.7L580.8 964.7L582.8 964.8L584.8 964.8L586.8 964.9L588.8 964.9L590.8 965L592.8 965L594.8 964.9L596.8 964.9L598.8 964.9L600.8 964.8L602.8 964.8L604.8 964.7L606.8 964.7L608.8 964.6L610.8 964.5L612.8 964.4L614.8 964.2L616.8 964L618.8 963.6L620.8 963.2L622.8 962.7L624.8 962.3L626.8 961.9L628.8 961.5L630.8 961.1L632.8 960.8L634.8 960.4L636.8 960.1L638.8 959.9L640.8 959.8L642.8 959.6L644.8 959.6L646.8 959.6L648.8 959.6L650.8 959.8L652.8 960L654.8 960.3L656.8 960.8L658.8 961.4L660.8 962L662.8 962.6L664.8 963.3L666.8 963.9L668.8 964.5L670.8 965.1L672.8 965.7L674.8 966.2L676.8 966.8L678.8 967.2L680.8 967.6L682.8 967.9L684.8 968.2L686.8 968.4L688.8 968.6L690.8 968.7L692.8 968.9L694.8 969L696.8 969.1L698.8 969.2L700.8 969.2L702.3 969.3"/>
<path id="C_aph_s" d="M108.4 901.4L109 901.4L112 898.5L115 895L118 891.6L121 888.2L124 884.9L127 881.6L130 878.3L133 874.8L136 871.6L139 868.9L142 866.5L145 864.2L148 861.6L151 858.7L154 855.6L157 852.4L160 849L163 845.7L166 842.6L169 839.6L172 836.8L175 834.7L178 833L181 831.6L184 830.7L187 830.2L190 829.8L193 829.6L196 829.6L199 829.7L202 829.8L205 829.8L208 829.7L211 829L214 827.4L217 825.8L220 824.2L223 822.7L226 821.4L229 820.1L232 819L235 818.3L238 817.8L241 817.5L244 817.6L247 818L250 818.5L253 819.3L256 820.3L258.9 821.5L261.9 822.7L264.9 824L267.9 825.4L270.9 826.8L273.9 828.3L276.9 829.9L279.9 831.9L282.9 834.3L285.9 836.9L288.9 839.8L291.9 843.1L294.9 846.6L297.9 850.4L300.9 854.5L303.9 858.9L306.9 863.4L309.9 868.1L312.9 873L315.9 878L318.9 883.2L321.9 888.3L324.9 893.2L327.9 898.1L330.9 902.6L333.9 906.3L336.9 909.4L339.9 912L342.9 914.3L345.9 916.2L348.9 918L351.9 919.7L354.9 921.5L357.9 923.4L360.9 925.1L363.9 926.7L366.9 928.1L369.9 929.6L372.9 930.9L375.9 932.4L378.9 933.9L381.9 935.4L384.9 937L387.9 938.6L390.9 940.3L393.9 942L396.9 943.8L399.9 945.7L402.9 947.8L405.9 949.9L408.9 951.6L411.9 953L414.9 954.1L417.9 955.1L420.9 956L423.9 956.7L426.9 957.4L429.9 958L432.9 958.6L435.9 959.1L438.9 959.6L441.9 960L444.9 960.3L447.9 960.6L450.9 960.8L453.9 961L456.9 961.2L459.9 961.3L462.9 961.5L465.9 961.7L468.9 961.9L471.9 962.1L474.9 962.4L477.9 962.7L480.9 963.1L483.9 963.5L486.9 964L489.9 964.4L492.9 964.9L495.9 965.3L498.9 965.6L501.9 965.9L504.9 966.1L507.9 966.2L510.9 966.2L513.9 966.2L516.9 966.2L519.9 966.2L522.9 966.2L525.9 966.2L528.9 966.1L531.9 966.1L534.9 966.1L537.9 966.1L540.9 966L543.9 966L546.9 965.9L549.9 965.9L552.9 965.8L555.8 965.8L558.8 965.7L561.8 965.7L564.8 965.6L567.8 965.5L570.8 965.4L573.8 965.4L576.8 965.3L579.8 965.2L582.8 965.1L585.8 965L588.8 964.9L591.8 964.8L594.8 964.7L597.8 964.6L600.8 964.4L603.8 964.3L606.8 964.2L609.8 964L612.8 963.7L615.8 963.3L618.8 962.8L621.8 962.4L624.8 961.9L627.8 961.3L630.8 960.6L633.8 960L636.8 959.5L639.8 959.2L642.8 959L645.8 958.9L648.8 959L651.8 959.2L654.8 959.7L657.8 960.5L660.8 961.5L663.8 962.5L666.8 963.4L669.8 964.4L672.8 965.4L675.8 966.3L678.8 966.9L681.8 967.4L684.8 967.7L687.8 968.1L690.8 968.4L693.8 968.6L696.8 968.8L699.8 968.9L702.3 968.9L702.3 969.4L699.8 969.4L696.8 969.3L693.8 969.1L690.8 968.9L687.8 968.6L684.8 968.3L681.8 968L678.8 967.6L675.8 967L672.8 966.2L669.8 965.3L666.8 964.4L663.8 963.5L660.8 962.6L657.8 961.6L654.8 960.9L651.8 960.5L648.8 960.3L645.8 960.2L642.8 960.3L639.8 960.5L636.8 960.8L633.8 961.2L630.8 961.8L627.8 962.3L624.8 962.8L621.8 963.3L618.8 963.8L615.8 964.2L612.8 964.6L609.8 965L606.8 965.2L603.8 965.3L600.8 965.4L597.8 965.5L594.8 965.7L591.8 965.8L588.8 965.9L585.8 966L582.8 966.1L579.8 966.2L576.8 966.3L573.8 966.4L570.8 966.5L567.8 966.6L564.8 966.6L561.8 966.7L558.8 966.8L555.8 966.9L552.9 966.9L549.9 967L546.9 967L543.9 967.1L540.9 967.1L537.9 967.2L534.9 967.2L531.9 967.2L528.9 967.3L525.9 967.3L522.9 967.3L519.9 967.3L516.9 967.3L513.9 967.3L510.9 967.3L507.9 967.3L504.9 967.2L501.9 967L498.9 966.8L495.9 966.5L492.9 966.1L489.9 965.7L486.9 965.3L483.9 964.9L480.9 964.5L477.9 964.2L474.9 963.9L471.9 963.6L468.9 963.4L465.9 963.2L462.9 962.9L459.9 962.7L456.9 962.6L453.9 962.4L450.9 962.2L447.9 962L444.9 961.8L441.9 961.6L438.9 961.4L435.9 961.3L432.9 961.1L429.9 961L426.9 960.8L423.9 960.6L420.9 960.4L417.9 960.1L414.9 959.7L411.9 959.1L408.9 958.3L405.9 957.3L402.9 956.2L399.9 955.1L396.9 954.1L393.9 953.1L390.9 952L387.9 950.9L384.9 949.8L381.9 948.8L378.9 947.8L375.9 947L372.9 946.2L369.9 945.4L366.9 944.6L363.9 943.8L360.9 942.9L357.9 941.9L354.9 940.9L351.9 939.7L348.9 938.5L345.9 937.3L342.9 935.9L339.9 934.4L336.9 932.7L333.9 930.6L330.9 928.2L327.9 925.5L324.9 922.1L321.9 918.2L318.9 913.9L315.9 909.4L312.9 904.5L309.9 899.6L306.9 895.1L303.9 890.9L300.9 886.8L297.9 882.9L294.9 879.1L291.9 875.6L288.9 872.7L285.9 870.1L282.9 867.8L279.9 865.9L276.9 864.3L273.9 862.9L270.9 861.5L267.9 860L264.9 858.7L261.9 857.4L258.9 856.2L256 855.1L253 854.4L250 854L247 853.6L244 853.5L241 853.6L238 853.9L235 854.3L232 855.1L229 856.3L226 857.7L223 859.2L220 860.8L217 862.3L214 863.5L211 864.5L208 865L205 864.9L202 864.6L199 864.2L196 863.9L193 863.8L190 863.9L187 864.2L184 864.7L181 865.7L178 867.2L175 869.2L172 871.6L169 874.7L166 878L163 881.2L160 884.6L157 887.9L154 891L151 894.1L148 897L145 899.6L142 902L139 904.3L136 907.1L133 910.3L130 913.7L127 917.1L124 920.4L121 923.7L118 927L115 930.2L112 933.4L109 936L108.4 936Z"/>
<clipPath id="cC_aph"><use href="#C_aph_s"/></clipPath>
<path id="C_ag" d="M109 703.1L111 704.5L113 706.5L115 708.5L117 710.5L119 712.6L121 714.8L123 717L125 719.3L127 721.4L129 723.6L131 725.7L133 727.7L135 729.7L137 731.5L139 733.3L141 734.9L143 736.4L145 738L147 739.6L149 741.3L151 743.1L153 744.9L155 746.8L157 748.8L159 751L161 753.2L163 755.5L165 757.6L167 759.6L169 761.5L171 763.3L173 765L175 766.6L177 768.2L179 769.6L181 771L183 772.3L185 773.5L187 774.5L189 775.5L191 776.4L193 777.4L195 778.5L197 779.6L199 780.7L201 781.8L203 783L205 784.3L207 785.5L209 786.8L211 788.1L213 789.4L215 790.7L217 792L219 793.2L221 794.5L223 795.9L225 797.2L227 798.5L229 799.8L231 801.1L233 802.4L235 803.6L237 804.8L239 805.9L241 807L243 808.1L245 809.1L247 810.1L249 811L251 811.9L253 812.8L255 813.7L257 814.6L258.9 815.4L260.9 816.3L262.9 817.1L264.9 817.9L266.9 818.6L268.9 819.4L270.9 820.1L272.9 820.8L274.9 821.5L276.9 822.3L278.9 823.1L280.9 823.9L282.9 824.8L284.9 825.7L286.9 826.7L288.9 827.7L290.9 828.8L292.9 829.9L294.9 831.1L296.9 832.3L298.9 833.6L300.9 835L302.9 836.5L304.9 838L306.9 839.5L308.9 841.1L310.9 842.9L312.9 844.8L314.9 847.1L316.9 850L318.9 853.4L320.9 857.2L322.9 860.9L324.9 864.4L326.9 867.8L328.9 871.1L330.9 873.9L332.9 876.4L334.9 878.3L336.9 879.7L338.9 880.7L340.9 881.6L342.9 882.5L344.9 883.5L346.9 884.5L348.9 885.5L350.9 886.5L352.9 887.5L354.9 888.5L356.9 889.4L358.9 890.4L360.9 891.5L362.9 892.8L364.9 894.1L366.9 895.6L368.9 897L370.9 898.4L372.9 899.7L374.9 901L376.9 902.4L378.9 903.6L380.9 904.9L382.9 906.2L384.9 907.5L386.9 908.8L388.9 910.1L390.9 911.5L392.9 912.9L394.9 914.3L396.9 915.7L398.9 917.1L400.9 918.6L402.9 920L404.9 921.2L406.9 922.2L408.9 923L410.9 923.6L412.9 924.3L414.9 925L416.9 925.7L418.9 926.5L420.9 927.3L422.9 928.1L424.9 928.9L426.9 929.6L428.9 930.3L430.9 930.9L432.9 931.6L434.9 932.4L436.9 933.3L438.9 934.3L440.9 935.4L442.9 936.5L444.9 937.6L446.9 938.6L448.9 939.7L450.9 940.8L452.9 941.9L454.9 943L456.9 944.1L458.9 945.2L460.9 946.4L462.9 947.5L464.9 948.6L466.9 949.7L468.9 950.8L470.9 951.8L472.9 952.8L474.9 953.7L476.9 954.6L478.9 955.5L480.9 956.3L482.9 957.1L484.9 957.9L486.9 958.6L488.9 959.3L490.9 959.9L492.9 960.6L494.9 961.2L496.9 961.8L498.9 962.4L500.9 962.9L502.9 963.4L504.9 963.8L506.9 964.2L508.9 964.5L510.9 964.7L512.9 964.8L514.9 964.9L516.9 965L518.9 965.1L520.9 965.2L522.9 965.3L524.9 965.4L526.9 965.4L528.9 965.5L530.9 965.6L532.9 965.6L534.9 965.7L536.9 965.8L538.9 965.8L540.9 965.9L542.9 965.9L544.9 966L546.9 966L548.9 966.1L550.9 966.1L552.9 966.2L554.8 966.2L556.8 966.3L558.8 966.3L560.8 966.4L562.8 966.4L564.8 966.4L566.8 966.5L568.8 966.5L570.8 966.6L572.8 966.6L574.8 966.7L576.8 966.7L578.8 966.8L580.8 966.9L582.8 966.9L584.8 967L586.8 967.1L588.8 967.2L590.8 967.3L592.8 967.4L594.8 967.4L596.8 967.5L598.8 967.5L600.8 967.6L602.8 967.6L604.8 967.7L606.8 967.7L608.8 967.7L610.8 967.8L612.8 967.8L614.8 967.8L616.8 967.9L618.8 967.9L620.8 967.9L622.8 967.9L624.8 968L626.8 968L628.8 968L630.8 968L632.8 968.1L634.8 968.1L636.8 968.1L638.8 968.1L640.8 968.2L642.8 968.2L644.8 968.2L646.8 968.3L648.8 968.3L650.8 968.3L652.8 968.3L654.8 968.4L656.8 968.4L658.8 968.4L660.8 968.4L662.8 968.5L664.8 968.5L666.8 968.5L668.8 968.6L670.8 968.6L672.8 968.6L674.8 968.6L676.8 968.7L678.8 968.7L680.8 968.7L682.8 968.7L684.8 968.8L686.8 968.8L688.8 968.8L690.8 968.8L692.8 968.8L694.8 968.9L696.8 968.9L698.8 968.9L700.8 968.9L702.3 968.9"/>
<path id="C_ag_s" d="M108.4 682L109 682L112 684.3L115 687.2L118 690.1L121 693.1L124 696.1L127 699.1L130 702.3L133 705.8L136 709L139 711.8L142 714.2L145 716.5L148 719.1L151 722L154 725.1L157 728.3L160 731.6L163 734.9L166 738.1L169 741.3L172 744.3L175 747L178 749.4L181 751.4L184 753.3L187 754.9L190 756.4L193 757.8L196 759.3L199 760.7L202 762.3L205 764.2L208 766.3L211 768.5L214 770.6L217 772.7L220 774.8L223 776.9L226 779L229 781.1L232 783.2L235 785.4L238 787.5L241 789.3L244 790.9L247 792.3L250 793.8L253 795.2L256 796.6L258.9 797.9L261.9 798.9L264.9 799.9L267.9 800.9L270.9 802L273.9 803.2L276.9 804.5L279.9 805.9L282.9 807.4L285.9 808.9L288.9 810.6L291.9 812.3L294.9 814.2L297.9 816.3L300.9 818.6L303.9 821.2L306.9 824L309.9 827.1L312.9 830.5L315.9 834.3L318.9 838.5L321.9 843.1L324.9 848.8L327.9 855.6L330.9 860.8L333.9 864.4L336.9 866.8L339.9 868.5L342.9 870L345.9 871.4L348.9 872.7L351.9 874L354.9 875.4L357.9 876.8L360.9 878.4L363.9 880.3L366.9 882.5L369.9 884.8L372.9 887.2L375.9 889.6L378.9 891.9L381.9 894.2L384.9 896.4L387.9 898.7L390.9 900.9L393.9 903.2L396.9 905.4L399.9 907.8L402.9 910.3L405.9 912.5L408.9 914.3L411.9 915.5L414.9 916.5L417.9 917.7L420.9 918.9L423.9 920.2L426.9 921.5L429.9 922.9L432.9 924.4L435.9 926L438.9 927.8L441.9 929.7L444.9 931.7L447.9 933.8L450.9 935.8L453.9 937.8L456.9 939.8L459.9 941.9L462.9 943.9L465.9 945.9L468.9 947.7L471.9 949.5L474.9 951.2L477.9 952.9L480.9 954.5L483.9 956L486.9 957.4L489.9 958.6L492.9 959.7L495.9 960.7L498.9 961.7L501.9 962.6L504.9 963.3L507.9 963.8L510.9 964.1L513.9 964.4L516.9 964.6L519.9 964.8L522.9 964.9L525.9 965.1L528.9 965.2L531.9 965.3L534.9 965.5L537.9 965.6L540.9 965.7L543.9 965.8L546.9 965.9L549.9 965.9L552.9 966L555.8 966.1L558.8 966.2L561.8 966.2L564.8 966.3L567.8 966.3L570.8 966.4L573.8 966.5L576.8 966.6L579.8 966.6L582.8 966.7L585.8 966.9L588.8 967.1L591.8 967.2L594.8 967.3L597.8 967.4L600.8 967.4L603.8 967.5L606.8 967.5L609.8 967.6L612.8 967.6L615.8 967.7L618.8 967.7L621.8 967.8L624.8 967.8L627.8 967.8L630.8 967.9L633.8 967.9L636.8 968L639.8 968L642.8 968L645.8 968.1L648.8 968.1L651.8 968.2L654.8 968.2L657.8 968.2L660.8 968.3L663.8 968.3L666.8 968.4L669.8 968.4L672.8 968.4L675.8 968.5L678.8 968.5L681.8 968.6L684.8 968.6L687.8 968.6L690.8 968.7L693.8 968.7L696.8 968.7L699.8 968.8L702.3 968.8L702.3 969.1L699.8 969.1L696.8 969L693.8 969L690.8 969L687.8 968.9L684.8 968.9L681.8 968.9L678.8 968.8L675.8 968.8L672.8 968.8L669.8 968.7L666.8 968.7L663.8 968.6L660.8 968.6L657.8 968.6L654.8 968.5L651.8 968.5L648.8 968.4L645.8 968.4L642.8 968.4L639.8 968.3L636.8 968.3L633.8 968.2L630.8 968.2L627.8 968.2L624.8 968.1L621.8 968.1L618.8 968L615.8 968L612.8 967.9L609.8 967.9L606.8 967.9L603.8 967.8L600.8 967.7L597.8 967.7L594.8 967.6L591.8 967.5L588.8 967.4L585.8 967.2L582.8 967.1L579.8 967L576.8 967L573.8 966.9L570.8 966.8L567.8 966.8L564.8 966.7L561.8 966.7L558.8 966.6L555.8 966.6L552.9 966.5L549.9 966.5L546.9 966.4L543.9 966.3L540.9 966.3L537.9 966.2L534.9 966.2L531.9 966.1L528.9 966.1L525.9 966L522.9 966L519.9 965.9L516.9 965.8L513.9 965.7L510.9 965.5L507.9 965.3L504.9 964.9L501.9 964.3L498.9 963.6L495.9 962.8L492.9 962L489.9 961.2L486.9 960.4L483.9 959.5L480.9 958.7L477.9 957.7L474.9 956.7L471.9 955.7L468.9 954.6L465.9 953.3L462.9 952L459.9 950.7L456.9 949.3L453.9 948L450.9 946.6L447.9 945.2L444.9 943.8L441.9 942.4L438.9 941.1L435.9 939.8L432.9 938.7L429.9 937.7L426.9 936.7L423.9 935.8L420.9 934.9L417.9 934L414.9 933L411.9 932.1L408.9 931.1L405.9 929.8L402.9 928.3L399.9 926.8L396.9 925.1L393.9 923.2L390.9 921.2L387.9 919.1L384.9 917L381.9 915.1L378.9 913.4L375.9 911.9L372.9 910.6L369.9 909.3L366.9 908.1L363.9 906.9L360.9 905.5L357.9 904L354.9 902.5L351.9 901L348.9 899.6L345.9 898.3L342.9 896.9L339.9 895.5L336.9 894L333.9 891.9L330.9 888.7L327.9 884.4L324.9 879.3L321.9 874.5L318.9 870.1L315.9 866.1L312.9 863.1L309.9 860.6L306.9 858.4L303.9 856.1L300.9 853.9L297.9 851.7L294.9 849.7L291.9 847.8L288.9 846.1L285.9 844.4L282.9 842.8L279.9 841.4L276.9 840L273.9 838.7L270.9 837.6L267.9 836.4L264.9 835.2L261.9 834L258.9 832.8L256 831.6L253 830.4L250 829.2L247 828L244 826.8L241 825.6L238 824.3L235 822.8L232 821.3L229 819.4L226 817.3L223 815.1L220 813.1L217 811.3L214 809.6L211 807.8L208 806L205 804.1L202 802.4L199 800.8L196 799.2L193 797.6L190 796L187 794.5L184 792.9L181 791.1L178 789.2L175 787.1L172 785L169 782.6L166 780L163 777L160 773.6L157 770.3L154 767.3L151 764.5L148 761.9L145 759.5L142 757.1L139 754.8L136 752L133 748.7L130 745.3L127 742L124 739L121 736L118 733.1L115 730.2L112 727.3L109 724.9L108.4 724.9Z"/>
<clipPath id="cC_ag"><use href="#C_ag_s"/></clipPath>
<path id="C_ad" d="M109 927.8L111 928.1L113 928.3L115 928.6L117 928.9L119 929.1L121 929.3L123 929.5L125 929.7L127 929.9L129 930.1L131 930.3L133 930.5L135 930.7L137 930.9L139 931.1L141 931.3L143 931.5L145 931.7L147 931.9L149 932.1L151 932.3L153 932.5L155 932.7L157 932.9L159 933L161 933.2L163 933.4L165 933.5L167 933.7L169 933.8L171 933.9L173 934L175 934.1L177 934.2L179 934.3L181 934.3L183 934.4L185 934.4L187 934.5L189 934.5L191 934.6L193 934.7L195 934.8L197 934.9L199 935L201 935.1L203 935.3L205 935.4L207 935.6L209 935.7L211 935.9L213 936.1L215 936.2L217 936.4L219 936.5L221 936.7L223 936.9L225 937.1L227 937.2L229 937.4L231 937.5L233 937.6L235 937.7L237 937.8L239 937.9L241 938L243 938.1L245 938.2L247 938.3L249 938.4L251 938.5L253 938.5L255 938.6L257 938.7L258.9 938.7L260.9 938.8L262.9 938.8L264.9 938.9L266.9 938.9L268.9 939L270.9 939L272.9 939.1L274.9 939.1L276.9 939.1L278.9 939.1L280.9 939.2L282.9 939.2L284.9 939.3L286.9 939.4L288.9 939.5L290.9 939.7L292.9 939.9L294.9 940.1L296.9 940.4L298.9 940.6L300.9 940.9L302.9 941.2L304.9 941.5L306.9 941.8L308.9 942.1L310.9 942.4L312.9 942.7L314.9 943.2L316.9 943.8L318.9 944.5L320.9 945.3L322.9 946L324.9 946.7L326.9 947.4L328.9 948L330.9 948.5L332.9 948.9L334.9 949.2L336.9 949.5L338.9 949.6L340.9 949.8L342.9 950L344.9 950.2L346.9 950.4L348.9 950.5L350.9 950.7L352.9 950.9L354.9 951.1L356.9 951.2L358.9 951.4L360.9 951.6L362.9 951.7L364.9 951.9L366.9 952.1L368.9 952.3L370.9 952.5L372.9 952.7L374.9 952.9L376.9 953.1L378.9 953.4L380.9 953.7L382.9 954L384.9 954.3L386.9 954.7L388.9 955.1L390.9 955.4L392.9 955.8L394.9 956.1L396.9 956.4L398.9 956.7L400.9 957L402.9 957.2L404.9 957.4L406.9 957.6L408.9 957.8L410.9 958L412.9 958.1L414.9 958.3L416.9 958.5L418.9 958.7L420.9 958.9L422.9 959.2L424.9 959.5L426.9 959.8L428.9 960.1L430.9 960.3L432.9 960.6L434.9 960.8L436.9 961L438.9 961.2L440.9 961.4L442.9 961.6L444.9 961.8L446.9 962L448.9 962.2L450.9 962.4L452.9 962.6L454.9 962.9L456.9 963.1L458.9 963.4L460.9 963.8L462.9 964.1L464.9 964.4L466.9 964.7L468.9 965L470.9 965.3L472.9 965.6L474.9 965.9L476.9 966.1L478.9 966.4L480.9 966.7L482.9 966.9L484.9 967.1L486.9 967.4L488.9 967.6L490.9 967.7L492.9 967.9L494.9 968L496.9 968.2L498.9 968.3L500.9 968.5L502.9 968.6L504.9 968.7L506.9 968.8L508.9 968.8L510.9 968.9L512.9 968.9L514.9 968.9L516.9 969L518.9 969L520.9 969L522.9 969L524.9 969L526.9 969.1L528.9 969.1L530.9 969.1L532.9 969.1L534.9 969.1L536.9 969.1L538.9 969.2L540.9 969.2L542.9 969.2L544.9 969.2L546.9 969.2L548.9 969.2L550.9 969.2L552.9 969.2L554.8 969.3L556.8 969.3L558.8 969.3L560.8 969.3L562.8 969.3L564.8 969.3L566.8 969.3L568.8 969.3L570.8 969.3L572.8 969.3L574.8 969.4L576.8 969.4L578.8 969.4L580.8 969.4L582.8 969.4L584.8 969.4L586.8 969.4L588.8 969.4L590.8 969.4L592.8 969.4L594.8 969.4L596.8 969.4L598.8 969.5L600.8 969.5L602.8 969.5L604.8 969.5L606.8 969.5L608.8 969.5L610.8 969.5L612.8 969.5L614.8 969.5L616.8 969.5L618.8 969.5L620.8 969.5L622.8 969.5L624.8 969.5L626.8 969.6L628.8 969.6L630.8 969.6L632.8 969.6L634.8 969.6L636.8 969.6L638.8 969.6L640.8 969.6L642.8 969.6L644.8 969.6L646.8 969.6L648.8 969.6L650.8 969.6L652.8 969.6L654.8 969.6L656.8 969.6L658.8 969.7L660.8 969.7L662.8 969.7L664.8 969.7L666.8 969.7L668.8 969.7L670.8 969.7L672.8 969.7L674.8 969.7L676.8 969.7L678.8 969.7L680.8 969.7L682.8 969.7L684.8 969.7L686.8 969.7L688.8 969.7L690.8 969.7L692.8 969.7L694.8 969.7L696.8 969.7L698.8 969.7L700.8 969.7L702.3 969.7"/>
<path id="C_ad_s" d="M108.4 904.9L109 904.9L112 905.4L115 906L118 906.5L121 907.1L124 907.5L127 908L130 908.4L133 908.8L136 909.3L139 909.7L142 910.2L145 910.6L148 911L151 911.5L154 912L157 912.4L160 913L163 913.5L166 914.1L169 914.6L172 915.1L175 915.5L178 915.8L181 916L184 916.3L187 916.5L190 916.7L193 916.9L196 917.1L199 917.4L202 917.6L205 917.8L208 918.1L211 918.3L214 918.6L217 918.9L220 919.2L223 919.5L226 919.8L229 920.1L232 920.4L235 920.7L238 921L241 921.3L244 921.6L247 921.8L250 922L253 922.2L256 922.4L258.9 922.5L261.9 922.7L264.9 922.8L267.9 922.9L270.9 923L273.9 923.1L276.9 923.2L279.9 923.2L282.9 923.3L285.9 923.4L288.9 923.6L291.9 923.9L294.9 924.3L297.9 924.7L300.9 925.3L303.9 925.9L306.9 926.7L309.9 927.5L312.9 928.5L315.9 929.6L318.9 931.1L321.9 932.7L324.9 934.2L327.9 935.5L330.9 936.7L333.9 937.6L336.9 938.1L339.9 938.6L342.9 939L345.9 939.5L348.9 940L351.9 940.6L354.9 941.1L357.9 941.7L360.9 942.2L363.9 942.8L366.9 943.4L369.9 944L372.9 944.6L375.9 945.3L378.9 945.9L381.9 946.7L384.9 947.5L387.9 948.4L390.9 949.3L393.9 950.1L396.9 950.8L399.9 951.4L402.9 951.9L405.9 952.4L408.9 952.9L411.9 953.3L414.9 953.7L417.9 954.1L420.9 954.5L423.9 954.8L426.9 955.2L429.9 955.5L432.9 955.9L435.9 956.3L438.9 956.9L441.9 957.4L444.9 958.1L447.9 958.7L450.9 959.4L453.9 960L456.9 960.6L459.9 961.2L462.9 961.8L465.9 962.4L468.9 963L471.9 963.6L474.9 964.2L477.9 964.8L480.9 965.4L483.9 965.9L486.9 966.4L489.9 966.9L492.9 967.2L495.9 967.5L498.9 967.8L501.9 968.1L504.9 968.3L507.9 968.4L510.9 968.5L513.9 968.5L516.9 968.6L519.9 968.7L522.9 968.7L525.9 968.7L528.9 968.8L531.9 968.8L534.9 968.8L537.9 968.9L540.9 968.9L543.9 968.9L546.9 968.9L549.9 969L552.9 969L555.8 969L558.8 969L561.8 969L564.8 969.1L567.8 969.1L570.8 969.1L573.8 969.1L576.8 969.1L579.8 969.2L582.8 969.2L585.8 969.2L588.8 969.2L591.8 969.3L594.8 969.3L597.8 969.3L600.8 969.3L603.8 969.3L606.8 969.3L609.8 969.4L612.8 969.4L615.8 969.4L618.8 969.4L621.8 969.4L624.8 969.4L627.8 969.4L630.8 969.4L633.8 969.4L636.8 969.5L639.8 969.5L642.8 969.5L645.8 969.5L648.8 969.5L651.8 969.5L654.8 969.5L657.8 969.5L660.8 969.5L663.8 969.5L666.8 969.5L669.8 969.6L672.8 969.6L675.8 969.6L678.8 969.6L681.8 969.6L684.8 969.6L687.8 969.6L690.8 969.6L693.8 969.6L696.8 969.6L699.8 969.6L702.3 969.6L702.3 969.9L699.8 969.9L696.8 969.9L693.8 969.8L690.8 969.8L687.8 969.8L684.8 969.8L681.8 969.8L678.8 969.7L675.8 969.7L672.8 969.7L669.8 969.7L666.8 969.7L663.8 969.7L660.8 969.7L657.8 969.7L654.8 969.6L651.8 969.6L648.8 969.6L645.8 969.6L642.8 969.6L639.8 969.6L636.8 969.6L633.8 969.6L630.8 969.6L627.8 969.6L624.8 969.6L621.8 969.6L618.8 969.6L615.8 969.6L612.8 969.6L609.8 969.6L606.8 969.6L603.8 969.6L600.8 969.6L597.8 969.6L594.8 969.6L591.8 969.6L588.8 969.6L585.8 969.7L582.8 969.8L579.8 969.8L576.8 969.8L573.8 969.8L570.8 969.8L567.8 969.8L564.8 969.8L561.8 969.7L558.8 969.7L555.8 969.7L552.9 969.7L549.9 969.7L546.9 969.7L543.9 969.7L540.9 969.7L537.9 969.7L534.9 969.7L531.9 969.7L528.9 969.7L525.9 969.7L522.9 969.6L519.9 969.6L516.9 969.6L513.9 969.6L510.9 969.6L507.9 969.6L504.9 969.5L501.9 969.5L498.9 969.4L495.9 969.3L492.9 969.3L489.9 969.2L486.9 969.1L483.9 968.9L480.9 968.8L477.9 968.6L474.9 968.4L471.9 968.3L468.9 968.1L465.9 967.9L462.9 967.7L459.9 967.5L456.9 967.2L453.9 967L450.9 966.8L447.9 966.5L444.9 966.3L441.9 966L438.9 965.8L435.9 965.6L432.9 965.4L429.9 965.2L426.9 965.1L423.9 964.9L420.9 964.8L417.9 964.6L414.9 964.5L411.9 964.3L408.9 964.2L405.9 964.1L402.9 963.9L399.9 963.8L396.9 963.6L393.9 963.3L390.9 963L387.9 962.6L384.9 962.3L381.9 962L378.9 961.8L375.9 961.6L372.9 961.5L369.9 961.4L366.9 961.4L363.9 961.3L360.9 961.3L357.9 961.2L354.9 961.1L351.9 961.1L348.9 961L345.9 960.9L342.9 960.8L339.9 960.7L336.9 960.5L333.9 960.3L330.9 960L327.9 959.6L324.9 959.1L321.9 958.5L318.9 957.9L315.9 957.3L312.9 956.9L309.9 956.5L306.9 956.2L303.9 956.1L300.9 956L297.9 955.9L294.9 955.8L291.9 955.7L288.9 955.6L285.9 955.6L282.9 955.5L279.9 955.4L276.9 955.3L273.9 955.3L270.9 955.2L267.9 955.2L264.9 955.2L261.9 955.2L258.9 955.2L256 955.2L253 955.2L250 955.2L247 955.2L244 955.1L241 955L238 954.9L235 954.8L232 954.7L229 954.6L226 954.5L223 954.3L220 954.2L217 954.1L214 954L211 953.9L208 953.8L205 953.8L202 953.7L199 953.6L196 953.6L193 953.5L190 953.4L187 953.3L184 953.2L181 953L178 952.9L175 952.8L172 952.7L169 952.6L166 952.4L163 952.3L160 952.2L157 952.1L154 951.9L151 951.7L148 951.6L145 951.4L142 951.2L139 951L136 950.9L133 950.7L130 950.6L127 950.5L124 950.4L121 950.3L118 950.1L115 950L112 949.8L109 949.6L108.4 949.6Z"/>
<clipPath id="cC_ad"><use href="#C_ad_s"/></clipPath>
<path id="D_aw" d="M889.7 963.2L891.7 963.2L893.7 963.2L895.7 963.2L897.7 963.2L899.7 963.2L901.7 963.2L903.7 963.2L905.7 963.2L907.7 963.2L909.7 963.2L911.7 963.2L913.7 963.1L915.7 963.1L917.7 963L919.7 962.9L921.7 962.9L923.7 962.8L925.7 962.7L927.7 962.6L929.7 962.5L931.7 962.5L933.7 962.4L935.7 962.3L937.7 962.2L939.7 962.1L941.7 961.9L943.7 961.8L945.7 961.7L947.7 961.6L949.7 961.5L951.7 961.4L953.7 961.2L955.7 961.1L957.7 960.9L959.7 960.6L961.7 960.3L963.7 959.9L965.7 959.4L967.7 958.9L969.7 958.4L971.7 957.9L973.7 957.2L975.7 956.6L977.7 955.9L979.7 955.2L981.7 954.5L983.7 953.7L985.7 953L987.7 952.4L989.7 951.8L991.7 951.2L993.7 950.7L995.7 950.2L997.7 949.8L999.7 949.5L1001.7 949.2L1003.7 948.9L1005.7 948.5L1007.7 948.1L1009.7 947.6L1011.7 947.1L1013.7 946.6L1015.7 946.1L1017.7 945.6L1019.7 945.1L1021.7 944.6L1023.7 944L1025.7 943.3L1027.7 942.6L1029.7 941.8L1031.7 940.9L1033.7 940L1035.7 939L1037.7 938L1039.6 937L1041.6 936L1043.6 935L1045.6 934L1047.6 933L1049.6 932L1051.6 931L1053.6 929.9L1055.6 928.7L1057.6 927.5L1059.6 926.3L1061.6 924.9L1063.6 923.5L1065.6 922.1L1067.6 920.5L1069.6 918.7L1071.6 916.7L1073.6 914.7L1075.6 912.7L1077.6 910.7L1079.6 908.4L1081.6 905.5L1083.6 902.2L1085.6 898.4L1087.6 894.5L1089.6 890.4L1091.6 886.3L1093.6 881.9L1095.6 877.3L1097.6 872.4L1099.6 867.2L1101.6 861.7L1103.6 855.9L1105.6 850L1107.6 844L1109.6 838.1L1111.6 832.3L1113.6 827.4L1115.6 823.8L1117.6 821.1L1119.6 818.8L1121.6 816.6L1123.6 814.6L1125.6 812.7L1127.6 810.7L1129.6 808.4L1131.6 806.1L1133.6 803.6L1135.6 801.2L1137.6 798.9L1139.6 796.7L1141.6 794.5L1143.6 792.4L1145.6 790.2L1147.6 788L1149.6 785.8L1151.6 783.4L1153.6 781L1155.6 778.6L1157.6 776.2L1159.6 773.8L1161.6 771.4L1163.6 769L1165.6 766.6L1167.6 764.1L1169.6 761.6L1171.6 758.8L1173.6 755.8L1175.6 752.3L1177.6 748.7L1179.6 745.2L1181.6 741.7L1183.6 738.2L1185.6 734.6L1187.6 731.3L1189.6 728.7L1191.6 726.8L1193.6 725.2L1195.6 723.6L1197.6 721.6L1199.6 719.4L1201.6 717L1203.6 714.6L1205.6 712.1L1207.6 709.8L1209.6 708.1L1211.6 706.9L1213.6 705.7L1215.6 704.4L1217.6 702.6L1219.6 700.6L1221.6 698.4L1223.6 696.5L1225.6 694.7L1227.6 693L1229.6 691.3L1231.6 689.7L1233.6 688.1L1235.6 686.3L1237.6 684.1L1239.6 681.3L1241.6 678.9L1243.6 676.8L1245.6 674.8L1247.6 672.5L1249.6 669.8L1251.6 667.1L1253.6 664.6L1255.6 662.1L1257.6 659.8L1259.6 657.5L1261.6 655.2L1263.6 653L1265.6 650.8L1267.6 648.7L1269.6 646.7L1271.6 644.8L1273.6 642.7L1275.6 640.5L1277.6 638.1L1279.6 635.7L1281.6 633.3L1283.6 631L1285.6 628.9L1287.6 627.4L1289.6 626.5L1291.6 625.8L1293.6 625.4L1295.6 625.1L1297.6 624.9L1299.6 624.8L1301.6 624.7L1303.6 624.7L1305.6 624.7L1307.6 624.7L1309.6 624.7L1311.6 624.7L1313.6 624.7L1315.6 624.7L1317.6 624.7L1319.6 624.7L1321.6 624.6L1323.6 624.4L1325.6 624.3L1327.6 624.1L1329.6 623.9L1331.6 623.7L1333.6 623.5L1335.5 623.3L1337.5 623.1L1339.5 622.9L1341.5 622.8L1343.5 622.6L1345.5 622.5L1347.5 622.3L1349.5 622.2L1351.5 622L1353.5 621.9L1355.5 621.7L1357.5 621.5L1359.5 621.3L1361.5 621L1363.5 620.8L1365.5 620.5L1367.5 620.2L1369.5 620L1371.5 619.7L1373.5 619.5L1375.5 619.4L1377.5 619.2L1379.5 619L1381.5 618.9L1383.5 618.7L1385.5 618.6L1387.5 618.5L1389.5 618.4L1391.5 618.5L1393.5 618.7L1395.5 619L1397.5 619.3L1399.5 619.8L1401.5 620.4L1403.5 621.2L1405.5 622.1L1407.5 623L1409.5 624.1L1411.5 625.1L1413.5 626.2L1415.5 627.2L1417.5 628.2L1419.5 629L1421.5 629.7L1423.5 630.2L1425.5 630.6L1427.5 630.8L1429.5 630.9L1431.5 630.9L1433.5 630.7L1435.5 630.2L1437.5 629.5L1439.5 628.7L1441.5 627.7L1443.5 626.6L1445.5 625.3L1447.5 623.7L1449.5 622L1451.5 620.3L1453.5 618.6L1455.5 616.9L1457.5 615.3L1459.5 613.7L1461.5 612.1L1463.5 610.8L1465.5 609.6L1467.5 608.6L1469.5 607.7L1471.5 606.9L1473.5 606.3L1475.5 605.7L1477.5 605.3L1479.5 604.9L1481.5 604.6L1483 604.5"/>
<path id="D_aph" d="M889.7 849.1L891.7 848.4L893.7 847.3L895.7 845.9L897.7 844.2L899.7 842.1L901.7 839.8L903.7 837.4L905.7 835L907.7 832.8L909.7 830.5L911.7 828.3L913.7 826.2L915.7 824.1L917.7 822.2L919.7 820.4L921.7 818.9L923.7 817.4L925.7 815.9L927.7 814.4L929.7 812.9L931.7 811.3L933.7 809.7L935.7 808L937.7 806.2L939.7 804.3L941.7 802.2L943.7 800.2L945.7 798L947.7 795.7L949.7 793.2L951.7 790.8L953.7 788.5L955.7 786.5L957.7 784.6L959.7 782.9L961.7 781.6L963.7 780.7L965.7 779.9L967.7 779.4L969.7 779.1L971.7 779.3L973.7 779.6L975.7 780.1L977.7 780.5L979.7 781.1L981.7 781.7L983.7 782.2L985.7 782.6L987.7 782.8L989.7 782.9L991.7 782.9L993.7 782.7L995.7 782.4L997.7 781.9L999.7 781.1L1001.7 780.3L1003.7 779.5L1005.7 778.7L1007.7 777.9L1009.7 777.2L1011.7 776.6L1013.7 776L1015.7 775.6L1017.7 775.2L1019.7 775L1021.7 774.9L1023.7 774.8L1025.7 774.8L1027.7 775L1029.7 775.4L1031.7 775.9L1033.7 776.5L1035.7 777.1L1037.7 777.9L1039.6 778.7L1041.6 779.5L1043.6 780.2L1045.6 781L1047.6 781.7L1049.6 782.4L1051.6 783.1L1053.6 783.8L1055.6 784.6L1057.6 785.4L1059.6 786.3L1061.6 787.3L1063.6 788.5L1065.6 789.6L1067.6 790.9L1069.6 792.3L1071.6 793.8L1073.6 795.5L1075.6 797.3L1077.6 799.2L1079.6 801.3L1081.6 803.5L1083.6 805.8L1085.6 808.2L1087.6 810.8L1089.6 813.5L1091.6 816.5L1093.6 819.7L1095.6 823.1L1097.6 826.7L1099.6 830.6L1101.6 834.7L1103.6 838.8L1105.6 842.6L1107.6 846.2L1109.6 849.7L1111.6 852.9L1113.6 855.7L1115.6 858L1117.6 860L1119.6 861.8L1121.6 863.4L1123.6 865L1125.6 866.4L1127.6 867.7L1129.6 869.1L1131.6 870.4L1133.6 871.8L1135.6 873.2L1137.6 874.6L1139.6 876L1141.6 877.4L1143.6 878.8L1145.6 880.2L1147.6 881.6L1149.6 883L1151.6 884.4L1153.6 885.8L1155.6 887.2L1157.6 888.6L1159.6 890L1161.6 891.4L1163.6 892.8L1165.6 894.2L1167.6 895.7L1169.6 897.3L1171.6 898.9L1173.6 900.6L1175.6 902.4L1177.6 904.4L1179.6 906.4L1181.6 908.5L1183.6 910.4L1185.6 912.3L1187.6 914.2L1189.6 916L1191.6 917.5L1193.6 918.9L1195.6 920.1L1197.6 921.2L1199.6 922.4L1201.6 923.6L1203.6 924.8L1205.6 926.1L1207.6 927.2L1209.6 928.2L1211.6 929.1L1213.6 929.9L1215.6 930.6L1217.6 931.3L1219.6 931.9L1221.6 932.5L1223.6 933.1L1225.6 933.7L1227.6 934.3L1229.6 934.9L1231.6 935.5L1233.6 936.1L1235.6 936.7L1237.6 937.3L1239.6 937.8L1241.6 938.5L1243.6 939.1L1245.6 939.9L1247.6 940.7L1249.6 941.5L1251.6 942.4L1253.6 943.2L1255.6 944.1L1257.6 945L1259.6 945.9L1261.6 946.8L1263.6 947.7L1265.6 948.7L1267.6 949.6L1269.6 950.4L1271.6 951.3L1273.6 952.1L1275.6 952.9L1277.6 953.6L1279.6 954.3L1281.6 955.1L1283.6 955.6L1285.6 956L1287.6 956.1L1289.6 956.2L1291.6 956.2L1293.6 956.2L1295.6 956.3L1297.6 956.3L1299.6 956.4L1301.6 956.4L1303.6 956.6L1305.6 956.7L1307.6 956.8L1309.6 956.9L1311.6 957L1313.6 957L1315.6 956.9L1317.6 956.8L1319.6 956.6L1321.6 956.5L1323.6 956.3L1325.6 956.2L1327.6 956.1L1329.6 956.1L1331.6 956L1333.6 955.9L1335.5 955.8L1337.5 955.7L1339.5 955.6L1341.5 955.5L1343.5 955.5L1345.5 955.4L1347.5 955.4L1349.5 955.4L1351.5 955.4L1353.5 955.4L1355.5 955.5L1357.5 955.5L1359.5 955.6L1361.5 955.7L1363.5 955.7L1365.5 955.8L1367.5 955.9L1369.5 956L1371.5 956.1L1373.5 956.2L1375.5 956.3L1377.5 956.4L1379.5 956.4L1381.5 956.5L1383.5 956.5L1385.5 956.5L1387.5 956.4L1389.5 956.4L1391.5 956.3L1393.5 956.1L1395.5 955.8L1397.5 955.3L1399.5 954.7L1401.5 954L1403.5 953.1L1405.5 952L1407.5 950.8L1409.5 949.7L1411.5 948.5L1413.5 947.4L1415.5 946.3L1417.5 945.4L1419.5 944.6L1421.5 943.9L1423.5 943.4L1425.5 943L1427.5 942.7L1429.5 942.6L1431.5 942.6L1433.5 942.6L1435.5 942.9L1437.5 943.5L1439.5 944.4L1441.5 945.3L1443.5 946.5L1445.5 947.9L1447.5 949.4L1449.5 951L1451.5 952.6L1453.5 954.2L1455.5 955.8L1457.5 957.4L1459.5 959L1461.5 960.4L1463.5 961.6L1465.5 962.6L1467.5 963.5L1469.5 964.2L1471.5 964.8L1473.5 965.2L1475.5 965.6L1477.5 965.8L1479.5 966L1481.5 966.2L1483 966.3"/>
<path id="D_aph_s" d="M889.1 778.2L889.7 778.2L892.7 773.8L895.7 768.5L898.7 763.1L901.7 757.6L904.7 752.1L907.7 747L910.7 742.3L913.7 738.1L916.7 734.2L919.7 730.6L922.7 727.3L925.7 724.1L928.7 720.9L931.7 717.7L934.7 714.3L937.7 710.6L940.7 706.5L943.7 702.2L946.7 697.6L949.7 692.6L952.7 687.8L955.7 683.5L958.7 679.9L961.7 677.1L964.7 675.1L967.7 674.1L970.7 673.7L973.7 674L976.7 674.8L979.7 675.9L982.7 676.9L985.7 677.5L988.7 677.6L991.7 677.1L994.7 676L997.7 674.4L1000.7 672.5L1003.7 670.8L1006.7 669.1L1009.7 667.5L1012.7 666.3L1015.7 665.2L1018.7 664.6L1021.7 664.4L1024.7 664.3L1027.7 664.6L1030.7 665.5L1033.7 666.8L1036.7 668.4L1039.6 670.3L1042.6 671.9L1045.6 673.4L1048.6 674.9L1051.6 676.3L1054.6 677.8L1057.6 679.4L1060.6 681L1063.6 682.8L1066.6 684.8L1069.6 687.1L1072.6 689.8L1075.6 693.1L1078.6 697.2L1081.6 701.7L1084.6 706.6L1087.6 712L1090.6 718.2L1093.6 725.3L1096.6 731.3L1099.6 735.8L1102.6 743.2L1105.6 752.7L1108.6 761.3L1111.6 769L1114.6 775.7L1117.6 781.3L1120.6 785.3L1123.6 788.6L1126.6 791.8L1129.6 794.6L1132.6 796.6L1135.6 798.3L1138.6 800.4L1141.6 803.7L1144.6 807.9L1147.6 812.3L1150.6 816.5L1153.6 820.7L1156.6 824.9L1159.6 829.1L1162.6 833.3L1165.6 837.5L1168.6 841.7L1171.6 845.8L1174.6 850.2L1177.6 855.2L1180.6 860.3L1183.6 865.6L1186.6 870.9L1189.6 876L1192.6 880.4L1195.6 884.2L1198.6 887.6L1201.6 890.9L1204.6 894L1207.6 896.8L1210.6 899.3L1213.6 901.4L1216.6 903.4L1219.6 905.2L1222.6 907L1225.6 908.8L1228.6 910.6L1231.6 912.4L1234.6 914.1L1237.6 915.6L1240.6 917.1L1243.6 918.8L1246.6 921.1L1249.6 923.6L1252.6 926L1255.6 928.1L1258.6 930.2L1261.6 932.2L1264.6 934.3L1267.6 936.4L1270.6 938.6L1273.6 940.7L1276.6 942.8L1279.6 944.7L1282.6 946.5L1285.6 947.7L1288.6 948.3L1291.6 948.7L1294.6 948.8L1297.6 948.8L1300.6 948.8L1303.6 948.6L1306.6 948.1L1309.6 947.6L1312.6 947.2L1315.6 947L1318.6 946.8L1321.6 946.6L1324.6 946.4L1327.6 946.2L1330.6 946.1L1333.6 945.9L1336.5 945.8L1339.5 945.6L1342.5 945.5L1345.5 945.4L1348.5 945.4L1351.5 945.4L1354.5 945.6L1357.5 945.7L1360.5 945.9L1363.5 946.1L1366.5 946.4L1369.5 946.6L1372.5 946.8L1375.5 947L1378.5 947.1L1381.5 947.2L1384.5 947.2L1387.5 947L1390.5 946.7L1393.5 946.1L1396.5 945L1399.5 943.5L1402.5 941.5L1405.5 938.7L1408.5 935.7L1411.5 932.5L1414.5 929.6L1417.5 927.1L1420.5 925.2L1423.5 924.1L1426.5 923.5L1429.5 923.3L1432.5 923.7L1435.5 924.8L1438.5 926.8L1441.5 929.5L1444.5 933L1447.5 937L1450.5 941.5L1453.5 946L1456.5 950L1459.5 953.6L1462.5 956.6L1465.5 959.4L1468.5 961.5L1471.5 963L1474.5 964.1L1477.5 964.8L1480.5 965.3L1483 965.5L1483 967L1480.5 967L1477.5 966.9L1474.5 966.9L1471.5 966.8L1468.5 966.7L1465.5 966.6L1462.5 966.4L1459.5 966.3L1456.5 966.1L1453.5 965.9L1450.5 965.6L1447.5 965L1444.5 964.3L1441.5 963.7L1438.5 963.1L1435.5 962.4L1432.5 961.9L1429.5 961.7L1426.5 961.8L1423.5 962.3L1420.5 962.9L1417.5 963.5L1414.5 964.1L1411.5 964.7L1408.5 965.2L1405.5 965.6L1402.5 965.8L1399.5 966L1396.5 966.2L1393.5 966.3L1390.5 966.5L1387.5 966.6L1384.5 966.7L1381.5 966.8L1378.5 966.9L1375.5 967L1372.5 967.1L1369.5 967.2L1366.5 967.3L1363.5 967.4L1360.5 967.5L1357.5 967.6L1354.5 967.7L1351.5 967.7L1348.5 967.8L1345.5 967.9L1342.5 968L1339.5 968.1L1336.5 968.2L1333.6 968.2L1330.6 968.3L1327.6 968.4L1324.6 968.4L1321.6 968.5L1318.6 968.6L1315.6 968.6L1312.6 968.7L1309.6 968.7L1306.6 968.8L1303.6 968.8L1300.6 968.8L1297.6 968.8L1294.6 968.9L1291.6 968.9L1288.6 968.9L1285.6 968.9L1282.6 968.8L1279.6 968.6L1276.6 968.2L1273.6 967.9L1270.6 967.4L1267.6 967L1264.6 966.5L1261.6 965.9L1258.6 965.3L1255.6 964.6L1252.6 964L1249.6 963.4L1246.6 962.8L1243.6 962.2L1240.6 961.6L1237.6 961L1234.6 960.4L1231.6 959.8L1228.6 959.1L1225.6 958.5L1222.6 957.9L1219.6 957.3L1216.6 956.8L1213.6 956.3L1210.6 955.9L1207.6 955.4L1204.6 955L1201.6 954.6L1198.6 954.1L1195.6 953.7L1192.6 953.2L1189.6 952.8L1186.6 952.3L1183.6 951.9L1180.6 951.4L1177.6 951L1174.6 950.6L1171.6 950.1L1168.6 949.6L1165.6 949.1L1162.6 948.6L1159.6 948L1156.6 947.4L1153.6 946.8L1150.6 946.1L1147.6 945.6L1144.6 945.1L1141.6 944.6L1138.6 944.1L1135.6 943.5L1132.6 942.9L1129.6 942.1L1126.6 941.2L1123.6 940L1120.6 938.8L1117.6 937.3L1114.6 935.6L1111.6 933.3L1108.6 930.7L1105.6 928.2L1102.6 925.5L1099.6 922.5L1096.6 919.6L1093.6 917.1L1090.6 914.8L1087.6 912.4L1084.6 909.9L1081.6 907.5L1078.6 905.4L1075.6 903.4L1072.6 901.5L1069.6 899.8L1066.6 898.3L1063.6 896.9L1060.6 895.7L1057.6 894.7L1054.6 893.7L1051.6 892.8L1048.6 891.9L1045.6 891L1042.6 890L1039.6 889.2L1036.7 888.5L1033.7 888L1030.7 887.6L1027.7 887.3L1024.7 887L1021.7 886.8L1018.7 886.7L1015.7 886.8L1012.7 887L1009.7 887.2L1006.7 887.4L1003.7 887.8L1000.7 888.1L997.7 888.3L994.7 888.5L991.7 888.5L988.7 888.4L985.7 888.1L982.7 887.7L979.7 887.2L976.7 886.6L973.7 886.1L970.7 885.7L967.7 885.6L964.7 885.7L961.7 885.8L958.7 886.3L955.7 887.2L952.7 888.1L949.7 889.1L946.7 890.3L943.7 891.6L940.7 893L937.7 894.6L934.7 896.1L931.7 897.6L928.7 899.1L925.7 900.6L922.7 902.1L919.7 903.6L916.7 905.2L913.7 906.9L910.7 908.8L907.7 910.6L904.7 912.4L901.7 914.2L898.7 916L895.7 917.6L892.7 919.2L889.7 920.4L889.1 920.4Z"/>
<clipPath id="cD_aph"><use href="#D_aph_s"/></clipPath>
<path id="D_ag" d="M889.7 754.1L891.7 755.1L893.7 756.6L895.7 758.6L897.7 761L899.7 763.4L901.7 765.7L903.7 767.9L905.7 770.1L907.7 772.2L909.7 774.3L911.7 776.4L913.7 778.4L915.7 780.3L917.7 782.2L919.7 783.9L921.7 785.5L923.7 787L925.7 788.6L927.7 790.1L929.7 791.7L931.7 793.3L933.7 794.9L935.7 796.6L937.7 798.4L939.7 800.4L941.7 802.5L943.7 804.5L945.7 806.5L947.7 808.4L949.7 810.3L951.7 812.1L953.7 813.7L955.7 815.2L957.7 816.6L959.7 817.8L961.7 818.9L963.7 820L965.7 821L967.7 821.9L969.7 822.5L971.7 822.9L973.7 823.1L975.7 823.3L977.7 823.6L979.7 823.9L981.7 824.3L983.7 824.6L985.7 825.1L987.7 825.5L989.7 826L991.7 826.6L993.7 827.2L995.7 828L997.7 828.8L999.7 829.7L1001.7 830.6L1003.7 831.5L1005.7 832.4L1007.7 833.4L1009.7 834.3L1011.7 835.2L1013.7 836.1L1015.7 836.9L1017.7 837.7L1019.7 838.4L1021.7 839L1023.7 839.6L1025.7 840.1L1027.7 840.6L1029.7 841L1031.7 841.4L1033.7 841.8L1035.7 842.2L1037.7 842.5L1039.6 842.8L1041.6 843L1043.6 843.2L1045.6 843.5L1047.6 843.7L1049.6 844L1051.6 844.4L1053.6 844.8L1055.6 845.3L1057.6 845.7L1059.6 846.1L1061.6 846.5L1063.6 846.9L1065.6 847.3L1067.6 847.7L1069.6 848.1L1071.6 848.6L1073.6 849L1075.6 849.5L1077.6 850L1079.6 850.5L1081.6 851L1083.6 851.6L1085.6 852.2L1087.6 852.8L1089.6 853.6L1091.6 854.4L1093.6 855.4L1095.6 856.5L1097.6 857.9L1099.6 859.6L1101.6 861.7L1103.6 863.9L1105.6 865.9L1107.6 867.7L1109.6 869.5L1111.6 871.1L1113.6 872.4L1115.6 873.5L1117.6 874.4L1119.6 875.2L1121.6 875.9L1123.6 876.5L1125.6 877.1L1127.6 877.7L1129.6 878.3L1131.6 878.9L1133.6 879.6L1135.6 880.3L1137.6 881L1139.6 881.8L1141.6 882.6L1143.6 883.5L1145.6 884.4L1147.6 885.3L1149.6 886.2L1151.6 887.2L1153.6 888.2L1155.6 889.3L1157.6 890.2L1159.6 891.2L1161.6 892.1L1163.6 893L1165.6 893.9L1167.6 894.8L1169.6 895.6L1171.6 896.5L1173.6 897.4L1175.6 898.5L1177.6 899.7L1179.6 900.9L1181.6 902.1L1183.6 903.3L1185.6 904.4L1187.6 905.4L1189.6 906.4L1191.6 907.2L1193.6 907.8L1195.6 908.3L1197.6 908.8L1199.6 909.3L1201.6 909.9L1203.6 910.5L1205.6 911.2L1207.6 911.9L1209.6 912.7L1211.6 913.4L1213.6 914.1L1215.6 915L1217.6 916L1219.6 917.1L1221.6 918.3L1223.6 919.5L1225.6 920.8L1227.6 922.1L1229.6 923.5L1231.6 924.9L1233.6 926.4L1235.6 927.8L1237.6 929.2L1239.6 930.6L1241.6 932L1243.6 933.4L1245.6 934.8L1247.6 936.2L1249.6 937.6L1251.6 939L1253.6 940.4L1255.6 941.8L1257.6 943.2L1259.6 944.6L1261.6 945.9L1263.6 947.1L1265.6 948.3L1267.6 949.4L1269.6 950.5L1271.6 951.6L1273.6 952.6L1275.6 953.6L1277.6 954.5L1279.6 955.3L1281.6 956.1L1283.6 956.8L1285.6 957.3L1287.6 957.7L1289.6 958L1291.6 958.3L1293.6 958.5L1295.6 958.7L1297.6 958.9L1299.6 959.1L1301.6 959.3L1303.6 959.5L1305.6 959.7L1307.6 960L1309.6 960.2L1311.6 960.4L1313.6 960.6L1315.6 960.8L1317.6 961L1319.6 961.2L1321.6 961.4L1323.6 961.5L1325.6 961.7L1327.6 961.9L1329.6 962.1L1331.6 962.3L1333.6 962.4L1335.5 962.6L1337.5 962.8L1339.5 962.9L1341.5 963.1L1343.5 963.2L1345.5 963.4L1347.5 963.5L1349.5 963.6L1351.5 963.7L1353.5 963.8L1355.5 963.9L1357.5 964L1359.5 964.1L1361.5 964.2L1363.5 964.3L1365.5 964.4L1367.5 964.5L1369.5 964.6L1371.5 964.7L1373.5 964.7L1375.5 964.8L1377.5 964.9L1379.5 965L1381.5 965.1L1383.5 965.2L1385.5 965.2L1387.5 965.3L1389.5 965.4L1391.5 965.5L1393.5 965.5L1395.5 965.6L1397.5 965.7L1399.5 965.8L1401.5 965.8L1403.5 965.9L1405.5 966L1407.5 966.1L1409.5 966.1L1411.5 966.2L1413.5 966.3L1415.5 966.3L1417.5 966.4L1419.5 966.4L1421.5 966.5L1423.5 966.6L1425.5 966.6L1427.5 966.7L1429.5 966.8L1431.5 966.8L1433.5 966.9L1435.5 966.9L1437.5 967L1439.5 967L1441.5 967.1L1443.5 967.2L1445.5 967.2L1447.5 967.3L1449.5 967.3L1451.5 967.4L1453.5 967.4L1455.5 967.5L1457.5 967.5L1459.5 967.6L1461.5 967.6L1463.5 967.7L1465.5 967.7L1467.5 967.8L1469.5 967.8L1471.5 967.9L1473.5 967.9L1475.5 968L1477.5 968L1479.5 968.1L1481.5 968.1L1483 968.1"/>
<path id="D_ag_s" d="M889.1 666.8L889.7 666.8L892.7 669.8L895.7 673.6L898.7 677.4L901.7 681.3L904.7 685.2L907.7 689.1L910.7 692.9L913.7 696.5L916.7 699.9L919.7 702.9L922.7 705.6L925.7 708.2L928.7 711L931.7 713.9L934.7 717L937.7 720.3L940.7 723.9L943.7 727.6L946.7 731.3L949.7 735L952.7 738.6L955.7 741.8L958.7 744.9L961.7 747.5L964.7 749.5L967.7 751L970.7 752.1L973.7 753L976.7 753.7L979.7 754.2L982.7 754.8L985.7 755.6L988.7 756.5L991.7 757.5L994.7 758.8L997.7 760.3L1000.7 761.9L1003.7 763.4L1006.7 764.9L1009.7 766.4L1012.7 768L1015.7 769.5L1018.7 771L1021.7 772.2L1024.7 773.3L1027.7 774.3L1030.7 775.1L1033.7 775.7L1036.7 776.3L1039.6 776.8L1042.6 777.1L1045.6 777.5L1048.6 777.8L1051.6 778.2L1054.6 778.6L1057.6 779.1L1060.6 779.8L1063.6 780.6L1066.6 781.5L1069.6 782.4L1072.6 783.5L1075.6 784.5L1078.6 785.6L1081.6 786.8L1084.6 788.1L1087.6 789.6L1090.6 791.4L1093.6 793.3L1096.6 795.4L1099.6 797.7L1102.6 800.4L1105.6 803.9L1108.6 807.7L1111.6 811L1114.6 814L1117.6 816.6L1120.6 818.7L1123.6 820.3L1126.6 821.8L1129.6 823.1L1132.6 824.6L1135.6 826.1L1138.6 827.6L1141.6 829.2L1144.6 831L1147.6 832.8L1150.6 834.8L1153.6 836.9L1156.6 839L1159.6 841.1L1162.6 843.2L1165.6 845.4L1168.6 847.6L1171.6 850L1174.6 852.7L1177.6 855.9L1180.6 859.4L1183.6 862.3L1186.6 864.6L1189.6 866.6L1192.6 868.3L1195.6 869.9L1198.6 871.3L1201.6 872.8L1204.6 874.3L1207.6 875.8L1210.6 877.4L1213.6 879.2L1216.6 881.1L1219.6 883.2L1222.6 885.6L1225.6 888.2L1228.6 890.7L1231.6 893.4L1234.6 896.3L1237.6 899.4L1240.6 902.8L1243.6 906.3L1246.6 910.2L1249.6 914.2L1252.6 917.9L1255.6 921.2L1258.6 924.4L1261.6 927.7L1264.6 931.1L1267.6 934.3L1270.6 937.5L1273.6 940.6L1276.6 943.5L1279.6 946.2L1282.6 948.8L1285.6 950.7L1288.6 952L1291.6 952.9L1294.6 953.5L1297.6 953.7L1300.6 953.9L1303.6 954.2L1306.6 954.7L1309.6 955.2L1312.6 955.8L1315.6 956.5L1318.6 957.1L1321.6 957.7L1324.6 958.2L1327.6 958.6L1330.6 959L1333.6 959.5L1336.5 959.9L1339.5 960.3L1342.5 960.6L1345.5 961L1348.5 961.2L1351.5 961.5L1354.5 961.7L1357.5 962L1360.5 962.2L1363.5 962.4L1366.5 962.6L1369.5 962.7L1372.5 962.9L1375.5 963.1L1378.5 963.3L1381.5 963.4L1384.5 963.6L1387.5 963.8L1390.5 963.9L1393.5 964.1L1396.5 964.3L1399.5 964.4L1402.5 964.6L1405.5 964.8L1408.5 964.9L1411.5 965L1414.5 965.2L1417.5 965.3L1420.5 965.5L1423.5 965.6L1426.5 965.7L1429.5 965.8L1432.5 965.9L1435.5 966.1L1438.5 966.2L1441.5 966.3L1444.5 966.4L1447.5 966.5L1450.5 966.6L1453.5 966.7L1456.5 966.8L1459.5 966.9L1462.5 966.9L1465.5 967L1468.5 967.1L1471.5 967.2L1474.5 967.3L1477.5 967.3L1480.5 967.4L1483 967.4L1483 968.6L1480.5 968.5L1477.5 968.4L1474.5 968.3L1471.5 968.2L1468.5 968.1L1465.5 968.1L1462.5 968L1459.5 967.9L1456.5 967.8L1453.5 967.8L1450.5 967.7L1447.5 967.6L1444.5 967.6L1441.5 967.5L1438.5 967.5L1435.5 967.4L1432.5 967.4L1429.5 967.3L1426.5 967.3L1423.5 967.2L1420.5 967.2L1417.5 967.2L1414.5 967.1L1411.5 967.1L1408.5 967.1L1405.5 967.1L1402.5 967L1399.5 967L1396.5 967L1393.5 967L1390.5 967L1387.5 967L1384.5 967L1381.5 967L1378.5 967L1375.5 967L1372.5 967L1369.5 967.1L1366.5 967.1L1363.5 967.2L1360.5 967.2L1357.5 967.3L1354.5 967.4L1351.5 967.4L1348.5 967.5L1345.5 967.6L1342.5 967.7L1339.5 967.8L1336.5 967.9L1333.6 968L1330.6 968L1327.6 968.1L1324.6 968.2L1321.6 968.3L1318.6 968.4L1315.6 968.5L1312.6 968.5L1309.6 968.6L1306.6 968.7L1303.6 968.7L1300.6 968.8L1297.6 968.8L1294.6 968.9L1291.6 968.9L1288.6 968.9L1285.6 968.9L1282.6 968.8L1279.6 968.5L1276.6 968L1273.6 967.5L1270.6 967L1267.6 966.5L1264.6 965.9L1261.6 965.3L1258.6 964.6L1255.6 963.9L1252.6 963.2L1249.6 962.4L1246.6 961.7L1243.6 961L1240.6 960.2L1237.6 959.4L1234.6 958.7L1231.6 957.9L1228.6 957.1L1225.6 956.4L1222.6 955.6L1219.6 954.9L1216.6 954.2L1213.6 953.6L1210.6 952.9L1207.6 952.3L1204.6 951.8L1201.6 951.2L1198.6 950.6L1195.6 950.1L1192.6 949.6L1189.6 949L1186.6 948.5L1183.6 947.9L1180.6 947.3L1177.6 946.7L1174.6 946.1L1171.6 945.4L1168.6 944.7L1165.6 944L1162.6 943.3L1159.6 942.5L1156.6 941.8L1153.6 941L1150.6 940.3L1147.6 939.5L1144.6 938.7L1141.6 938L1138.6 937.2L1135.6 936.4L1132.6 935.7L1129.6 935.1L1126.6 934.5L1123.6 933.9L1120.6 933.3L1117.6 932.8L1114.6 932.1L1111.6 930.9L1108.6 929.2L1105.6 927.2L1102.6 925.4L1099.6 923.7L1096.6 922.5L1093.6 921.8L1090.6 921.3L1087.6 920.6L1084.6 919.8L1081.6 918.8L1078.6 917.9L1075.6 917L1072.6 916.2L1069.6 915.4L1066.6 914.7L1063.6 914.2L1060.6 913.7L1057.6 913.2L1054.6 912.8L1051.6 912.3L1048.6 911.8L1045.6 911.4L1042.6 911L1039.6 910.5L1036.7 910.1L1033.7 909.6L1030.7 909.1L1027.7 908.6L1024.7 908.1L1021.7 907.6L1018.7 906.9L1015.7 906.2L1012.7 905.4L1009.7 904.5L1006.7 903.6L1003.7 902.7L1000.7 901.8L997.7 900.9L994.7 900L991.7 899.1L988.7 898.1L985.7 897L982.7 896L979.7 895.1L976.7 894.2L973.7 893.3L970.7 892.5L967.7 891.8L964.7 891L961.7 890L958.7 888.8L955.7 887.5L952.7 886.2L949.7 885L946.7 883.6L943.7 882.1L940.7 880.5L937.7 878.7L934.7 877L931.7 875.2L928.7 873.4L925.7 871.6L922.7 869.8L919.7 868L916.7 866.1L913.7 864.1L910.7 862L907.7 859.7L904.7 857.1L901.7 854.4L898.7 851.6L895.7 849.1L892.7 846.6L889.7 844.5L889.1 844.5Z"/>
<clipPath id="cD_ag"><use href="#D_ag_s"/></clipPath>
<path id="D_ad" d="M889.7 942.2L891.7 942.4L893.7 942.7L895.7 943L897.7 943.3L899.7 943.5L901.7 943.8L903.7 944.1L905.7 944.3L907.7 944.5L909.7 944.8L911.7 945L913.7 945.2L915.7 945.4L917.7 945.6L919.7 945.8L921.7 945.9L923.7 946.1L925.7 946.3L927.7 946.5L929.7 946.7L931.7 947L933.7 947.2L935.7 947.4L937.7 947.6L939.7 947.8L941.7 948L943.7 948.2L945.7 948.3L947.7 948.5L949.7 948.7L951.7 948.8L953.7 949L955.7 949.1L957.7 949.2L959.7 949.3L961.7 949.4L963.7 949.4L965.7 949.5L967.7 949.5L969.7 949.6L971.7 949.6L973.7 949.6L975.7 949.6L977.7 949.6L979.7 949.6L981.7 949.6L983.7 949.6L985.7 949.6L987.7 949.6L989.7 949.6L991.7 949.6L993.7 949.6L995.7 949.7L997.7 949.7L999.7 949.8L1001.7 949.8L1003.7 949.9L1005.7 950L1007.7 950.1L1009.7 950.1L1011.7 950.2L1013.7 950.2L1015.7 950.3L1017.7 950.3L1019.7 950.4L1021.7 950.4L1023.7 950.5L1025.7 950.5L1027.7 950.5L1029.7 950.5L1031.7 950.5L1033.7 950.5L1035.7 950.5L1037.7 950.5L1039.6 950.5L1041.6 950.5L1043.6 950.5L1045.6 950.5L1047.6 950.5L1049.6 950.5L1051.6 950.5L1053.6 950.5L1055.6 950.5L1057.6 950.5L1059.6 950.5L1061.6 950.5L1063.6 950.5L1065.6 950.5L1067.6 950.5L1069.6 950.6L1071.6 950.6L1073.6 950.7L1075.6 950.7L1077.6 950.8L1079.6 950.9L1081.6 950.9L1083.6 951L1085.6 951.1L1087.6 951.2L1089.6 951.3L1091.6 951.4L1093.6 951.5L1095.6 951.6L1097.6 951.8L1099.6 952.1L1101.6 952.4L1103.6 952.8L1105.6 953.1L1107.6 953.3L1109.6 953.6L1111.6 953.8L1113.6 953.9L1115.6 954L1117.6 954.2L1119.6 954.2L1121.6 954.3L1123.6 954.4L1125.6 954.5L1127.6 954.5L1129.6 954.6L1131.6 954.7L1133.6 954.7L1135.6 954.8L1137.6 954.9L1139.6 955L1141.6 955.1L1143.6 955.1L1145.6 955.2L1147.6 955.3L1149.6 955.4L1151.6 955.5L1153.6 955.6L1155.6 955.7L1157.6 955.8L1159.6 956L1161.6 956.1L1163.6 956.2L1165.6 956.4L1167.6 956.5L1169.6 956.7L1171.6 956.8L1173.6 957L1175.6 957.2L1177.6 957.3L1179.6 957.5L1181.6 957.7L1183.6 957.8L1185.6 957.9L1187.6 958L1189.6 958.2L1191.6 958.3L1193.6 958.4L1195.6 958.5L1197.6 958.6L1199.6 958.8L1201.6 958.9L1203.6 959L1205.6 959.1L1207.6 959.3L1209.6 959.4L1211.6 959.6L1213.6 959.7L1215.6 959.9L1217.6 960L1219.6 960.2L1221.6 960.4L1223.6 960.5L1225.6 960.7L1227.6 960.9L1229.6 961.2L1231.6 961.4L1233.6 961.6L1235.6 961.9L1237.6 962.1L1239.6 962.4L1241.6 962.7L1243.6 963.1L1245.6 963.4L1247.6 963.7L1249.6 964L1251.6 964.3L1253.6 964.5L1255.6 964.8L1257.6 965L1259.6 965.3L1261.6 965.5L1263.6 965.8L1265.6 966L1267.6 966.2L1269.6 966.4L1271.6 966.7L1273.6 966.9L1275.6 967.1L1277.6 967.4L1279.6 967.6L1281.6 967.8L1283.6 967.9L1285.6 968L1287.6 968.1L1289.6 968.2L1291.6 968.2L1293.6 968.3L1295.6 968.3L1297.6 968.3L1299.6 968.4L1301.6 968.4L1303.6 968.5L1305.6 968.5L1307.6 968.5L1309.6 968.6L1311.6 968.6L1313.6 968.7L1315.6 968.7L1317.6 968.8L1319.6 968.8L1321.6 968.8L1323.6 968.9L1325.6 968.9L1327.6 969L1329.6 969L1331.6 969L1333.6 969L1335.5 969.1L1337.5 969.1L1339.5 969.1L1341.5 969.1L1343.5 969.1L1345.5 969.2L1347.5 969.2L1349.5 969.2L1351.5 969.2L1353.5 969.2L1355.5 969.3L1357.5 969.3L1359.5 969.3L1361.5 969.3L1363.5 969.3L1365.5 969.4L1367.5 969.4L1369.5 969.4L1371.5 969.4L1373.5 969.4L1375.5 969.5L1377.5 969.5L1379.5 969.5L1381.5 969.5L1383.5 969.5L1385.5 969.5L1387.5 969.6L1389.5 969.6L1391.5 969.6L1393.5 969.6L1395.5 969.6L1397.5 969.6L1399.5 969.7L1401.5 969.7L1403.5 969.7L1405.5 969.7L1407.5 969.7L1409.5 969.7L1411.5 969.7L1413.5 969.8L1415.5 969.8L1417.5 969.8L1419.5 969.8L1421.5 969.8L1423.5 969.8L1425.5 969.8L1427.5 969.8L1429.5 969.9L1431.5 969.9L1433.5 969.9L1435.5 969.9L1437.5 969.9L1439.5 969.9L1441.5 969.9L1443.5 969.9L1445.5 969.9L1447.5 969.9L1449.5 969.9L1451.5 969.9L1453.5 970L1455.5 970L1457.5 970L1459.5 970L1461.5 970L1463.5 970L1465.5 970L1467.5 970L1469.5 970L1471.5 970L1473.5 970L1475.5 970L1477.5 970L1479.5 970L1481.5 970L1483 970"/>
<path id="D_ad_s" d="M889.1 925.5L889.7 925.5L892.7 926L895.7 926.7L898.7 927.3L901.7 927.9L904.7 928.5L907.7 929L910.7 929.5L913.7 930L916.7 930.4L919.7 930.9L922.7 931.3L925.7 931.7L928.7 932.2L931.7 932.7L934.7 933.1L937.7 933.6L940.7 934.1L943.7 934.5L946.7 934.8L949.7 935.2L952.7 935.6L955.7 935.9L958.7 936L961.7 936L964.7 936L967.7 936L970.7 936L973.7 936L976.7 936L979.7 936.1L982.7 936.2L985.7 936.3L988.7 936.4L991.7 936.5L994.7 936.6L997.7 936.7L1000.7 936.8L1003.7 936.9L1006.7 937L1009.7 937.1L1012.7 937.1L1015.7 937.2L1018.7 937.3L1021.7 937.4L1024.7 937.4L1027.7 937.5L1030.7 937.5L1033.7 937.5L1036.7 937.5L1039.6 937.5L1042.6 937.5L1045.6 937.5L1048.6 937.5L1051.6 937.5L1054.6 937.5L1057.6 937.5L1060.6 937.5L1063.6 937.5L1066.6 937.5L1069.6 937.6L1072.6 937.7L1075.6 937.9L1078.6 938L1081.6 938L1084.6 938L1087.6 938L1090.6 938.2L1093.6 938.6L1096.6 939.1L1099.6 939.7L1102.6 940.3L1105.6 940.9L1108.6 941.6L1111.6 942.2L1114.6 942.7L1117.6 943.2L1120.6 943.6L1123.6 943.9L1126.6 944.3L1129.6 944.7L1132.6 945L1135.6 945.4L1138.6 945.8L1141.6 946.2L1144.6 946.6L1147.6 947L1150.6 947.4L1153.6 947.8L1156.6 948.2L1159.6 948.6L1162.6 949.1L1165.6 949.5L1168.6 950L1171.6 950.4L1174.6 950.9L1177.6 951.4L1180.6 951.9L1183.6 952.4L1186.6 952.8L1189.6 953.2L1192.6 953.7L1195.6 954.1L1198.6 954.5L1201.6 954.9L1204.6 955.3L1207.6 955.6L1210.6 956L1213.6 956.4L1216.6 956.8L1219.6 957.2L1222.6 957.7L1225.6 958.1L1228.6 958.5L1231.6 959L1234.6 959.5L1237.6 960.1L1240.6 960.7L1243.6 961.3L1246.6 961.9L1249.6 962.5L1252.6 963.1L1255.6 963.7L1258.6 964.3L1261.6 964.8L1264.6 965.3L1267.6 965.8L1270.6 966.3L1273.6 966.7L1276.6 967.2L1279.6 967.5L1282.6 967.8L1285.6 968L1288.6 968.1L1291.6 968.2L1294.6 968.3L1297.6 968.4L1300.6 968.4L1303.6 968.5L1306.6 968.5L1309.6 968.6L1312.6 968.6L1315.6 968.6L1318.6 968.7L1321.6 968.7L1324.6 968.7L1327.6 968.8L1330.6 968.8L1333.6 968.8L1336.5 968.8L1339.5 968.9L1342.5 968.9L1345.5 968.9L1348.5 969L1351.5 969L1354.5 969L1357.5 969L1360.5 969.1L1363.5 969.1L1366.5 969.1L1369.5 969.2L1372.5 969.2L1375.5 969.2L1378.5 969.2L1381.5 969.3L1384.5 969.3L1387.5 969.3L1390.5 969.3L1393.5 969.4L1396.5 969.4L1399.5 969.4L1402.5 969.4L1405.5 969.5L1408.5 969.5L1411.5 969.5L1414.5 969.5L1417.5 969.5L1420.5 969.6L1423.5 969.6L1426.5 969.6L1429.5 969.6L1432.5 969.6L1435.5 969.6L1438.5 969.7L1441.5 969.7L1444.5 969.7L1447.5 969.7L1450.5 969.7L1453.5 969.7L1456.5 969.7L1459.5 969.7L1462.5 969.7L1465.5 969.7L1468.5 969.8L1471.5 969.8L1474.5 969.8L1477.5 969.8L1480.5 969.8L1483 969.8L1483 970.2L1480.5 970.2L1477.5 970.2L1474.5 970.2L1471.5 970.2L1468.5 970.1L1465.5 970.1L1462.5 970.1L1459.5 970.1L1456.5 970.1L1453.5 970.1L1450.5 970L1447.5 970L1444.5 970L1441.5 970L1438.5 970L1435.5 970L1432.5 969.9L1429.5 969.9L1426.5 969.9L1423.5 969.9L1420.5 969.9L1417.5 969.9L1414.5 969.8L1411.5 969.8L1408.5 969.8L1405.5 969.8L1402.5 969.8L1399.5 969.8L1396.5 969.8L1393.5 969.7L1390.5 969.7L1387.5 969.7L1384.5 969.7L1381.5 969.7L1378.5 969.7L1375.5 969.7L1372.5 969.7L1369.5 969.7L1366.5 969.6L1363.5 969.6L1360.5 969.6L1357.5 969.6L1354.5 969.6L1351.5 969.6L1348.5 969.6L1345.5 969.6L1342.5 969.6L1339.5 969.5L1336.5 969.5L1333.6 969.5L1330.6 969.5L1327.6 969.5L1324.6 969.5L1321.6 969.5L1318.6 969.5L1315.6 969.5L1312.6 969.5L1309.6 969.5L1306.6 969.5L1303.6 969.5L1300.6 969.5L1297.6 969.5L1294.6 969.4L1291.6 969.4L1288.6 969.4L1285.6 969.4L1282.6 969.4L1279.6 969.4L1276.6 969.3L1273.6 969.3L1270.6 969.2L1267.6 969.2L1264.6 969.1L1261.6 969.1L1258.6 969L1255.6 969L1252.6 968.9L1249.6 968.9L1246.6 968.8L1243.6 968.7L1240.6 968.7L1237.6 968.6L1234.6 968.5L1231.6 968.4L1228.6 968.3L1225.6 968.3L1222.6 968.2L1219.6 968.1L1216.6 968L1213.6 968L1210.6 967.9L1207.6 967.8L1204.6 967.7L1201.6 967.7L1198.6 967.6L1195.6 967.5L1192.6 967.4L1189.6 967.4L1186.6 967.3L1183.6 967.2L1180.6 967.1L1177.6 967L1174.6 966.9L1171.6 966.8L1168.6 966.7L1165.6 966.6L1162.6 966.5L1159.6 966.4L1156.6 966.3L1153.6 966.2L1150.6 966L1147.6 965.9L1144.6 965.9L1141.6 965.8L1138.6 965.7L1135.6 965.6L1132.6 965.5L1129.6 965.4L1126.6 965.3L1123.6 965.2L1120.6 965.1L1117.6 965.1L1114.6 965L1111.6 964.9L1108.6 964.7L1105.6 964.6L1102.6 964.5L1099.6 964.3L1096.6 964.2L1093.6 964.1L1090.6 964L1087.6 963.9L1084.6 963.8L1081.6 963.8L1078.6 963.8L1075.6 963.8L1072.6 963.9L1069.6 963.9L1066.6 964L1063.6 964L1060.6 964L1057.6 963.9L1054.6 963.9L1051.6 963.9L1048.6 963.8L1045.6 963.8L1042.6 963.8L1039.6 963.7L1036.7 963.7L1033.7 963.7L1030.7 963.6L1027.7 963.6L1024.7 963.6L1021.7 963.5L1018.7 963.5L1015.7 963.5L1012.7 963.4L1009.7 963.4L1006.7 963.4L1003.7 963.4L1000.7 963.3L997.7 963.3L994.7 963.3L991.7 963.2L988.7 963.2L985.7 963.2L982.7 963.1L979.7 963.1L976.7 963.1L973.7 963L970.7 963L967.7 962.9L964.7 962.9L961.7 962.8L958.7 962.7L955.7 962.6L952.7 962.4L949.7 962.3L946.7 962.2L943.7 962L940.7 961.9L937.7 961.8L934.7 961.7L931.7 961.6L928.7 961.5L925.7 961.3L922.7 961.1L919.7 961L916.7 960.8L913.7 960.6L910.7 960.4L907.7 960.2L904.7 960.1L901.7 960L898.7 959.8L895.7 959.7L892.7 959.6L889.7 959.5L889.1 959.5Z"/>
<clipPath id="cD_ad"><use href="#D_ad_s"/></clipPath>
</defs>
<g id="panelA">
<g stroke="#262626" fill="none">
<path d="M108.7 84.5H702.6" stroke-width="0.8"/>
<path d="M108.7 455.5H702.6" stroke-width="0.8"/>
<path d="M109 84.5V455.5M702.3 84.5V455.5" stroke-width="0.58"/>
<path d="M207.9 455.5v-5.6M207.9 84.5v5.6M306.8 455.5v-5.6M306.8 84.5v5.6M405.6 455.5v-5.6M405.6 84.5v5.6M504.5 455.5v-5.6M504.5 84.5v5.6M603.4 455.5v-5.6M603.4 84.5v5.6" stroke-width="0.7"/>
<path d="M109 331.8h5.6M702.3 331.8h-5.6M109 208.2h5.6M702.3 208.2h-5.6" stroke-width="0.8"/>
</g>
<g clip-path="url(#clipA)" fill="none" stroke-width="4.4" stroke-linejoin="round">
<use href="#A_aph_s" fill="#a0cf8d" fill-opacity="0.5"/>
<use href="#A_aph" stroke="#0b8641"/>
<use href="#A_ag_s" fill="#fffacd" fill-opacity="0.5"/>
<g clip-path="url(#cA_ag)"><use href="#A_aph" stroke="#80c068"/></g>
<use href="#A_ag" stroke="#ffd700"/>
<use href="#A_ad_s" fill="#e1bd8b" fill-opacity="0.5"/>
<g clip-path="url(#cA_aph)"><use href="#A_ad_s" fill="#d4daa8"/></g>
<g clip-path="url(#cA_ad)"><use href="#A_aph" stroke="#73a346"/></g>
<use href="#A_ad" stroke="#8b4519"/>
</g>
<g fill="#262626" font-size="28.0" class="n">
<text transform="translate(109.2 491.4) scale(1 1.075)" text-anchor="middle">400</text>
<text transform="translate(208.1 491.4) scale(1 1.075)" text-anchor="middle">450</text>
<text transform="translate(307 491.4) scale(1 1.075)" text-anchor="middle">500</text>
<text transform="translate(405.8 491.4) scale(1 1.075)" text-anchor="middle">550</text>
<text transform="translate(504.7 491.4) scale(1 1.075)" text-anchor="middle">600</text>
<text transform="translate(603.6 491.4) scale(1 1.075)" text-anchor="middle">650</text>
<text transform="translate(702.5 491.4) scale(1 1.075)" text-anchor="middle">700</text>
<text transform="translate(99.7 465.8) scale(1 1.075)" text-anchor="end">0</text>
<text transform="translate(99.7 342.1) scale(1 1.075)" text-anchor="end">0.05</text>
<text transform="translate(99.7 218.5) scale(1 1.075)" text-anchor="end">0.1</text>
<text transform="translate(99.7 94.8) scale(1 1.075)" text-anchor="end">0.15</text>
</g>
<text x="405.9" y="528.5" text-anchor="middle" font-size="30.6" fill="#262626" class="n">Wavelength (nm)</text>
<text transform="translate(34.4 381.3) rotate(-90)" font-size="31.2" fill="#262626" class="n">Absorption (m<tspan font-size="25" dx="2.4" dy="-16.3">-1</tspan><tspan dy="16.3">)</tspan></text>
<text x="404.8" y="63.9" text-anchor="middle" font-size="31.2" font-weight="bold" fill="#000" class="b">Thomas Fire (December 2017)</text>
<text x="11.3" y="24.2" font-size="30.6" font-weight="bold" fill="#000">A</text>
</g>
<g id="panelB">
<g stroke="#262626" fill="none">
<path d="M889.4 84.5H1483.3" stroke-width="0.8"/>
<path d="M889.4 455.5H1483.3" stroke-width="0.8"/>
<path d="M889.7 84.5V455.5M1483 84.5V455.5" stroke-width="0.58"/>
<path d="M988.6 455.5v-5.6M988.6 84.5v5.6M1087.5 455.5v-5.6M1087.5 84.5v5.6M1186.3 455.5v-5.6M1186.3 84.5v5.6M1285.2 455.5v-5.6M1285.2 84.5v5.6M1384.1 455.5v-5.6M1384.1 84.5v5.6" stroke-width="0.7"/>
<path d="M889.7 331.8h5.6M1483 331.8h-5.6M889.7 208.2h5.6M1483 208.2h-5.6" stroke-width="0.8"/>
</g>
<g clip-path="url(#clipB)" fill="none" stroke-width="4.4" stroke-linejoin="round">
<use href="#B_aph_s" fill="#a0cf8d" fill-opacity="0.5"/>
<use href="#B_aph" stroke="#0b8641"/>
<use href="#B_ag_s" fill="#fffacd" fill-opacity="0.5"/>
<g clip-path="url(#cB_ag)"><use href="#B_aph" stroke="#80c068"/></g>
<use href="#B_ag" stroke="#ffd700"/>
<use href="#B_ad_s" fill="#e1bd8b" fill-opacity="0.5"/>
<g clip-path="url(#cB_aph)"><use href="#B_ad_s" fill="#d4daa8"/></g>
<g clip-path="url(#cB_ad)"><use href="#B_aph" stroke="#73a346"/></g>
<use href="#B_ad" stroke="#8b4519"/>
</g>
<g fill="#262626" font-size="28.0" class="n">
<text transform="translate(889.9 491.4) scale(1 1.075)" text-anchor="middle">400</text>
<text transform="translate(988.8 491.4) scale(1 1.075)" text-anchor="middle">450</text>
<text transform="translate(1087.7 491.4) scale(1 1.075)" text-anchor="middle">500</text>
<text transform="translate(1186.5 491.4) scale(1 1.075)" text-anchor="middle">550</text>
<text transform="translate(1285.4 491.4) scale(1 1.075)" text-anchor="middle">600</text>
<text transform="translate(1384.3 491.4) scale(1 1.075)" text-anchor="middle">650</text>
<text transform="translate(1483.2 491.4) scale(1 1.075)" text-anchor="middle">700</text>
<text transform="translate(880.4 465.8) scale(1 1.075)" text-anchor="end">0</text>
<text transform="translate(880.4 342.1) scale(1 1.075)" text-anchor="end">0.05</text>
<text transform="translate(880.4 218.5) scale(1 1.075)" text-anchor="end">0.1</text>
<text transform="translate(880.4 94.8) scale(1 1.075)" text-anchor="end">0.15</text>
</g>
<text x="1186.6" y="528.5" text-anchor="middle" font-size="30.6" fill="#262626" class="n">Wavelength (nm)</text>
<text transform="translate(815.1 381.3) rotate(-90)" font-size="31.2" fill="#262626" class="n">Absorption (m<tspan font-size="25" dx="2.4" dy="-16.3">-1</tspan><tspan dy="16.3">)</tspan></text>
<text x="1185.1" y="63.9" text-anchor="middle" font-size="31.15" font-weight="bold" fill="#000" class="b">Plumes and Blooms (December 2005-2018)</text>
<text x="788.8" y="24.2" font-size="30.6" font-weight="bold" fill="#000">B</text>
</g>
<g id="panelC">
<g stroke="#262626" fill="none">
<path d="M108.7 599.4H702.6" stroke-width="0.8" stroke-opacity="0.62"/>
<path d="M108.7 970.5H702.6" stroke-width="0.8"/>
<path d="M109 599.4V970.5M702.3 599.4V970.5" stroke-width="0.58"/>
<path d="M207.9 970.5v-5.6M207.9 599.4v5.6M306.8 970.5v-5.6M306.8 599.4v5.6M405.6 970.5v-5.6M405.6 599.4v5.6M504.5 970.5v-5.6M504.5 599.4v5.6M603.4 970.5v-5.6M603.4 599.4v5.6" stroke-width="0.7"/>
<path d="M109 896.3h5.6M702.3 896.3h-5.6M109 822.1h5.6M702.3 822.1h-5.6M109 747.8h5.6M702.3 747.8h-5.6M109 673.6h5.6M702.3 673.6h-5.6" stroke-width="0.8"/>
</g>
<g clip-path="url(#clipC)" fill="none" stroke-width="4.4" stroke-linejoin="round">
<use href="#C_aw" stroke="#3953a4"/>
<use href="#C_aph_s" fill="#a0cf8d" fill-opacity="0.5"/>
<g clip-path="url(#cC_aph)"><use href="#C_aw" stroke="#4d7ec4"/></g>
<use href="#C_aph" stroke="#0b8641"/>
<use href="#C_ag_s" fill="#fffacd" fill-opacity="0.5"/>
<g clip-path="url(#cC_ag)"><use href="#C_aw" stroke="#7b7abc"/></g>
<g clip-path="url(#cC_aph)"><g clip-path="url(#cC_ag)"><use href="#C_aw" stroke="#a5bed0"/></g></g>
<g clip-path="url(#cC_ag)"><use href="#C_aph" stroke="#80c068"/></g>
<use href="#C_ag" stroke="#ffd700"/>
<use href="#C_ad_s" fill="#e1bd8b" fill-opacity="0.5"/>
<g clip-path="url(#cC_aph)"><use href="#C_ad_s" fill="#d4daa8"/></g>
<g clip-path="url(#cC_ad)"><use href="#C_aw" stroke="#6c5fb0"/></g>
<g clip-path="url(#cC_ad)"><use href="#C_aph" stroke="#73a346"/></g>
<use href="#C_ad" stroke="#8b4519"/>
</g>
<g fill="#262626" font-size="28.0" class="n">
<text transform="translate(109.2 1006.4) scale(1 1.075)" text-anchor="middle">400</text>
<text transform="translate(208.1 1006.4) scale(1 1.075)" text-anchor="middle">450</text>
<text transform="translate(307 1006.4) scale(1 1.075)" text-anchor="middle">500</text>
<text transform="translate(405.8 1006.4) scale(1 1.075)" text-anchor="middle">550</text>
<text transform="translate(504.7 1006.4) scale(1 1.075)" text-anchor="middle">600</text>
<text transform="translate(603.6 1006.4) scale(1 1.075)" text-anchor="middle">650</text>
<text transform="translate(702.5 1006.4) scale(1 1.075)" text-anchor="middle">700</text>
<text transform="translate(99.7 980.8) scale(1 1.075)" text-anchor="end">0</text>
<text transform="translate(99.7 906.6) scale(1 1.075)" text-anchor="end">0.2</text>
<text transform="translate(99.7 832.4) scale(1 1.075)" text-anchor="end">0.4</text>
<text transform="translate(99.7 758.1) scale(1 1.075)" text-anchor="end">0.6</text>
<text transform="translate(99.7 683.9) scale(1 1.075)" text-anchor="end">0.8</text>
<text transform="translate(99.7 609.7) scale(1 1.075)" text-anchor="end">1</text>
</g>
<text x="405.9" y="1043.5" text-anchor="middle" font-size="30.6" fill="#262626" class="n">Wavelength (nm)</text>
<text transform="translate(49.3 937.9) rotate(-90)" font-size="31.4" letter-spacing="0.2" fill="#262626" class="n">Fraction of absorption</text>
<text x="404.8" y="579.8" text-anchor="middle" font-size="31.2" font-weight="bold" fill="#000" class="b">Thomas Fire (December 2017)</text>
<text x="11" y="552.6" font-size="30.6" font-weight="bold" fill="#000">C</text>
</g>
<g id="panelD">
<g stroke="#262626" fill="none">
<path d="M889.4 599.4H1483.3" stroke-width="0.8" stroke-opacity="0.62"/>
<path d="M889.4 970.5H1483.3" stroke-width="0.8"/>
<path d="M889.7 599.4V970.5M1483 599.4V970.5" stroke-width="0.58"/>
<path d="M988.6 970.5v-5.6M988.6 599.4v5.6M1087.5 970.5v-5.6M1087.5 599.4v5.6M1186.3 970.5v-5.6M1186.3 599.4v5.6M1285.2 970.5v-5.6M1285.2 599.4v5.6M1384.1 970.5v-5.6M1384.1 599.4v5.6" stroke-width="0.7"/>
<path d="M889.7 896.3h5.6M1483 896.3h-5.6M889.7 822.1h5.6M1483 822.1h-5.6M889.7 747.8h5.6M1483 747.8h-5.6M889.7 673.6h5.6M1483 673.6h-5.6" stroke-width="0.8"/>
</g>
<g clip-path="url(#clipD)" fill="none" stroke-width="4.4" stroke-linejoin="round">
<use href="#D_aw" stroke="#3953a4"/>
<use href="#D_aph_s" fill="#a0cf8d" fill-opacity="0.5"/>
<g clip-path="url(#cD_aph)"><use href="#D_aw" stroke="#4d7ec4"/></g>
<use href="#D_aph" stroke="#0b8641"/>
<use href="#D_ag_s" fill="#fffacd" fill-opacity="0.5"/>
<g clip-path="url(#cD_ag)"><use href="#D_aw" stroke="#7b7abc"/></g>
<g clip-path="url(#cD_aph)"><g clip-path="url(#cD_ag)"><use href="#D_aw" stroke="#a5bed0"/></g></g>
<g clip-path="url(#cD_ag)"><use href="#D_aph" stroke="#80c068"/></g>
<use href="#D_ag" stroke="#ffd700"/>
<use href="#D_ad_s" fill="#e1bd8b" fill-opacity="0.5"/>
<g clip-path="url(#cD_aph)"><use href="#D_ad_s" fill="#d4daa8"/></g>
<g clip-path="url(#cD_ad)"><use href="#D_aw" stroke="#6c5fb0"/></g>
<g clip-path="url(#cD_ad)"><use href="#D_aph" stroke="#73a346"/></g>
<path d="M988.6 970.5v-5.6M1087.5 970.5v-5.6M1186.3 970.5v-5.6" stroke="#262626" stroke-width="0.7"/>
<use href="#D_ad" stroke="#8b4519"/>
</g>
<g fill="#262626" font-size="28.0" class="n">
<text transform="translate(889.9 1006.4) scale(1 1.075)" text-anchor="middle">400</text>
<text transform="translate(988.8 1006.4) scale(1 1.075)" text-anchor="middle">450</text>
<text transform="translate(1087.7 1006.4) scale(1 1.075)" text-anchor="middle">500</text>
<text transform="translate(1186.5 1006.4) scale(1 1.075)" text-anchor="middle">550</text>
<text transform="translate(1285.4 1006.4) scale(1 1.075)" text-anchor="middle">600</text>
<text transform="translate(1384.3 1006.4) scale(1 1.075)" text-anchor="middle">650</text>
<text transform="translate(1483.2 1006.4) scale(1 1.075)" text-anchor="middle">700</text>
<text transform="translate(880.4 980.8) scale(1 1.075)" text-anchor="end">0</text>
<text transform="translate(880.4 906.6) scale(1 1.075)" text-anchor="end">0.2</text>
<text transform="translate(880.4 832.4) scale(1 1.075)" text-anchor="end">0.4</text>
<text transform="translate(880.4 758.1) scale(1 1.075)" text-anchor="end">0.6</text>
<text transform="translate(880.4 683.9) scale(1 1.075)" text-anchor="end">0.8</text>
<text transform="translate(880.4 609.7) scale(1 1.075)" text-anchor="end">1</text>
</g>
<text x="1186.6" y="1043.5" text-anchor="middle" font-size="30.6" fill="#262626" class="n">Wavelength (nm)</text>
<text transform="translate(830 937.9) rotate(-90)" font-size="31.4" letter-spacing="0.2" fill="#262626" class="n">Fraction of absorption</text>
<text x="1185.1" y="579.8" text-anchor="middle" font-size="31.15" font-weight="bold" fill="#000" class="b">Plumes and Blooms (December 2005-2018)</text>
<text x="790.4" y="552.6" font-size="30.6" font-weight="bold" fill="#000">D</text>
</g>
<g>
<rect x="1361.3" y="122.5" width="96.4" height="134.2" fill="#fff" stroke="#262626" stroke-width="0.8"/>
<path d="M1367.1 146.6H1409.7" stroke="#ffd700" stroke-width="4.4" fill="none"/>
<text x="1413.6" y="149.6" font-size="25.5" fill="#000" class="b">a<tspan font-size="20.5" dy="12.6">g</tspan></text>
<path d="M1367.1 189.7H1409.7" stroke="#0b8641" stroke-width="4.4" fill="none"/>
<text x="1413.6" y="192.7" font-size="25.5" fill="#000" class="b">a<tspan font-size="20.5" dy="12.6">ph</tspan></text>
<path d="M1367.1 232.8H1409.7" stroke="#8b4519" stroke-width="4.4" fill="none"/>
<text x="1413.6" y="235.8" font-size="25.5" fill="#000" class="b">a<tspan font-size="20.5" dy="12.6">d</tspan></text>
</g>
<g>
<rect x="1361.3" y="677.5" width="96.4" height="177" fill="#fff" stroke="#262626" stroke-width="0.8"/>
<path d="M1367.1 701.2H1409.7" stroke="#3953a4" stroke-width="4.4" fill="none"/>
<text x="1413.6" y="704.2" font-size="25.5" fill="#000" class="b">a<tspan font-size="20.5" dy="12.6">w</tspan></text>
<path d="M1367.1 744.4H1409.7" stroke="#ffd700" stroke-width="4.4" fill="none"/>
<text x="1413.6" y="747.4" font-size="25.5" fill="#000" class="b">a<tspan font-size="20.5" dy="12.6">g</tspan></text>
<path d="M1367.1 787.5H1409.7" stroke="#0b8641" stroke-width="4.4" fill="none"/>
<text x="1413.6" y="790.5" font-size="25.5" fill="#000" class="b">a<tspan font-size="20.5" dy="12.6">ph</tspan></text>
<path d="M1367.1 830.7H1409.7" stroke="#8b4519" stroke-width="4.4" fill="none"/>
<text x="1413.6" y="833.7" font-size="25.5" fill="#000" class="b">a<tspan font-size="20.5" dy="12.6">d</tspan></text>
</g>
</svg>
</body></html>
